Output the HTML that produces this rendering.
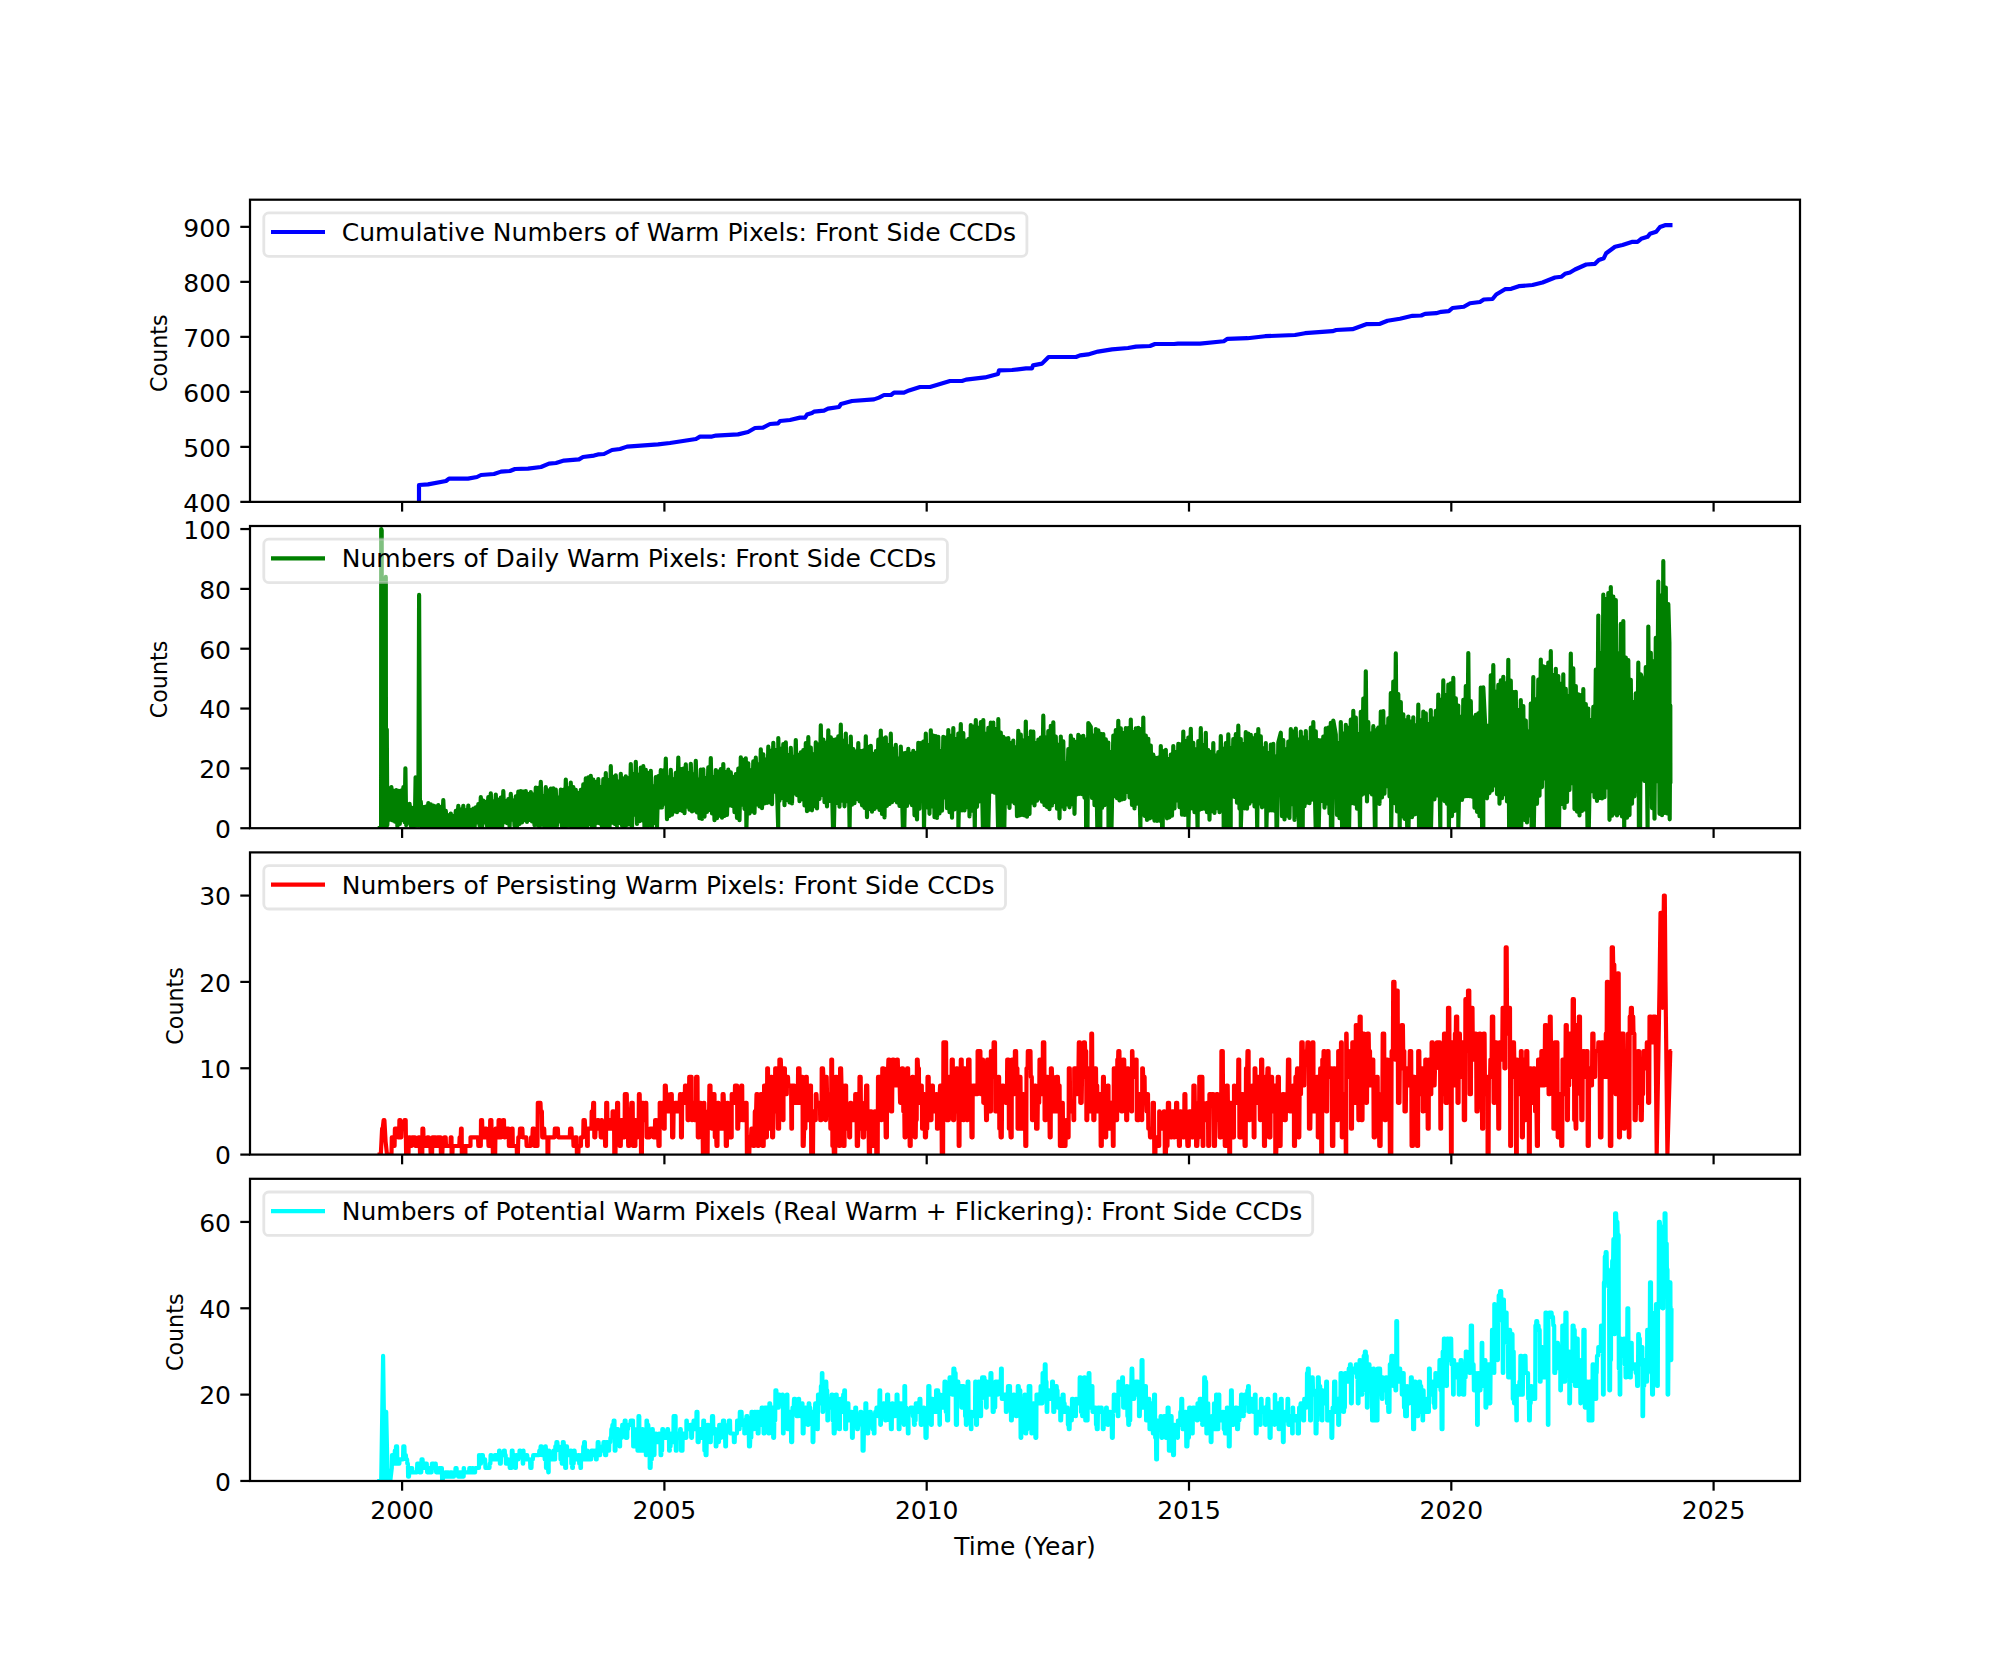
<!DOCTYPE html>
<html lang="en"><head><meta charset="utf-8"><title>Warm Pixels: Front Side CCDs</title>
<style>html,body{margin:0;padding:0;background:#fff}body{width:2000px;height:1664px;overflow:hidden}</style></head>
<body>
<svg width="2000" height="1664" viewBox="0 0 2000 1664" style="display:block">
<rect width="2000" height="1664" fill="#fff"/>
<defs>
<clipPath id="c0"><rect x="250" y="199.7" width="1550" height="302.2"/></clipPath>
<clipPath id="c1"><rect x="250" y="526" width="1550" height="302.2"/></clipPath>
<clipPath id="c2"><rect x="250" y="852.4" width="1550" height="302.2"/></clipPath>
<clipPath id="c3"><rect x="250" y="1178.8" width="1550" height="302.2"/></clipPath>
</defs>
<g font-family="'DejaVu Sans','Liberation Sans',sans-serif" fill="#000">
<path d="M419,506.9 L419,485 L428,484.4 L446,481 L449,478.6 L468,478.6 L477,477 L481,475 L494,474 L501,471.6 L510,471 L515,469 L528,468.6 L541,467 L549,463.6 L556,463 L564,460.6 L579,459.4 L583,457 L594,455.6 L598,454.4 L604,454 L612,450 L620,449 L627,446.6 L658,444.4 L670,443 L696,439 L700,436.6 L712,436.6 L716,435.6 L738,434.4 L748,432 L755,428 L763,427.6 L770,424 L778,423.4 L780,421 L790,420 L800,417.6 L805,417.6 L807,414.6 L812,413 L814,411.6 L824,410.6 L828,408.6 L839,407 L841,404 L852,401 L874,399.4 L879,397.6 L884,395 L891,395 L894,392.6 L904,392.6 L909,390.4 L920,387 L930,387 L950,381 L962,381 L966,379.6 L985,377.4 L998,374 L999,370.4 L1012,370 L1026,368.4 L1032,368.4 L1033,365.4 L1042,363.6 L1048.6,357 L1076,357 L1080,355.4 L1088,354.4 L1098,351.6 L1112,349.4 L1128,348 L1136,346.6 L1150,346 L1155,344 L1174,344 L1178,343.6 L1200,343.6 L1223.8,341.2 L1227.5,338.8 L1247.5,338.2 L1265,336.2 L1295,335 L1305,333.2 L1332.5,331.2 L1336.2,330 L1352.5,329.2 L1366.2,324.2 L1380,323.8 L1387.5,320.8 L1400,318.8 L1412.5,315.8 L1421.2,315.5 L1425,313.8 L1436.2,313.2 L1441.2,311.8 L1448.8,311.2 L1452.5,308 L1463.8,306.8 L1470,303.2 L1480,302 L1483.8,299.5 L1492.5,299 L1496.2,294.5 L1505,289.2 L1511.2,288.8 L1518.8,286.2 L1532.5,285 L1542.5,282.5 L1555,277.5 L1561.2,276.8 L1565,273.8 L1570,272.5 L1575,269.5 L1586.2,264.5 L1595,263.8 L1598.8,260 L1603.8,258.2 L1606.2,253.2 L1615,246.8 L1622.5,245 L1632.5,241.8 L1637.5,241.8 L1641.2,238.8 L1647.5,236.8 L1650,233.8 L1656.2,231.8 L1660,227 L1665,225.2 L1672.5,225.2" fill="none" stroke="#0000ff" stroke-width="4.17" stroke-linejoin="round" stroke-linecap="butt" clip-path="url(#c0)"/>
<rect x="250" y="199.7" width="1550" height="302.19" fill="none" stroke="#000" stroke-width="2.22"/>
<line x1="402.1" x2="402.1" y1="501.87" y2="511.59" stroke="#000" stroke-width="2.22"/>
<line x1="664.4" x2="664.4" y1="501.87" y2="511.59" stroke="#000" stroke-width="2.22"/>
<line x1="926.7" x2="926.7" y1="501.87" y2="511.59" stroke="#000" stroke-width="2.22"/>
<line x1="1189" x2="1189" y1="501.87" y2="511.59" stroke="#000" stroke-width="2.22"/>
<line x1="1451.3" x2="1451.3" y1="501.87" y2="511.59" stroke="#000" stroke-width="2.22"/>
<line x1="1713.6" x2="1713.6" y1="501.87" y2="511.59" stroke="#000" stroke-width="2.22"/>
<line x1="240.3" x2="250" y1="501.87" y2="501.87" stroke="#000" stroke-width="2.22"/>
<text x="231" y="511.7" font-size="25" text-anchor="end">400</text>
<line x1="240.3" x2="250" y1="446.87" y2="446.87" stroke="#000" stroke-width="2.22"/>
<text x="231" y="456.7" font-size="25" text-anchor="end">500</text>
<line x1="240.3" x2="250" y1="391.86" y2="391.86" stroke="#000" stroke-width="2.22"/>
<text x="231" y="401.7" font-size="25" text-anchor="end">600</text>
<line x1="240.3" x2="250" y1="336.86" y2="336.86" stroke="#000" stroke-width="2.22"/>
<text x="231" y="346.7" font-size="25" text-anchor="end">700</text>
<line x1="240.3" x2="250" y1="281.86" y2="281.86" stroke="#000" stroke-width="2.22"/>
<text x="231" y="291.7" font-size="25" text-anchor="end">800</text>
<line x1="240.3" x2="250" y1="226.85" y2="226.85" stroke="#000" stroke-width="2.22"/>
<text x="231" y="236.7" font-size="25" text-anchor="end">900</text>
<text transform="translate(167.2,353.2) rotate(-90)" font-size="22.22" text-anchor="middle">Counts</text>
<rect x="263.8" y="212.9" width="763.1" height="43.4" rx="5" ry="5" fill="#fff" fill-opacity="0.5" stroke="#ccc" stroke-opacity="0.5" stroke-width="2.78"/>
<line x1="271" x2="325" y1="232" y2="232" stroke="#0000ff" stroke-width="4.17"/>
<text x="341.7" y="240.8" font-size="25" textLength="674.3">Cumulative Numbers of Warm Pixels: Front Side CCDs</text>
<path d="M377.7,828.2 L379.6,828.2 L381.1,828.2 L381.2,529 L381.7,530.5 L381.8,828.2 L382.5,816.3 L383.5,828.2 L385.6,828.2 L385.8,576.9 L386,828.2 L386.5,822.2 L386.8,729.5 L387.3,825.2 L389,788 L390.2,819.7 L391.4,787 L392.6,820.5 L393.8,790.8 L395,821.7 L396.2,790 L397.4,826.5 L398.6,790.8 L399.8,823.8 L401,790.6 L402.2,820 L403.4,787.1 L404.6,822.2 L405.4,768.4 L406.2,825.2 L407.2,808.1 L408.4,822.7 L409.6,803.8 L410.8,826.1 L412,807.9 L413.2,827.3 L414.8,825.2 L415.6,777.4 L416.4,825.2 L417.4,807.3 L418.3,825.2 L419.1,594.9 L420,825.2 L420.8,801.6 L422.1,828.2 L423.3,807.1 L424.6,828.2 L425.8,806.6 L427.1,827.9 L428.3,803 L429.6,827.6 L430.8,804.4 L432.1,827.8 L433.3,805.6 L434.6,828.2 L435.8,806.4 L437.1,826.7 L438.3,805.2 L439.6,828.1 L440.8,807.2 L442.1,825.8 L443.3,800.2 L444.6,827.8 L445.8,810.9 L447.1,828.2 L448.3,815.3 L449.6,828.1 L450.8,813.5 L452.1,828.2 L453.3,816 L454.6,827.1 L455.8,810.9 L457.1,827.5 L458.3,805.8 L459.6,827.9 L460.8,809.5 L462.1,828.2 L463.3,805.8 L464.6,828.1 L465.8,810.4 L467.1,827.8 L468.3,805.6 L469.6,827.5 L470.8,810.1 L472.1,828 L473.3,808.6 L474.6,827.3 L475.8,807.4 L477.1,822.4 L478.3,804.1 L479.6,825.9 L480.8,797.2 L482.1,828 L483.3,800.6 L484.6,822.4 L485.8,801.9 L487.1,826.4 L488.3,797.2 L489.6,827.4 L490.8,793.4 L492.1,826.7 L493.3,801.7 L494.6,827.1 L495.8,794.7 L497.1,827.9 L498.3,799.9 L499.6,826.9 L500.8,797.5 L502.1,827.4 L503.3,791.1 L504.6,822.1 L505.8,801.1 L507.1,823.2 L508.3,799 L509.6,826.7 L510.8,793.9 L512,819.6 L513.3,800.7 L514.5,825.8 L515.8,796.3 L517,826.6 L518.3,791.7 L519.5,824 L520.8,791.1 L522,822.3 L523.3,791.5 L524.5,820.2 L525.8,791.1 L527,821.8 L528.3,794.2 L529.5,819.8 L530.8,792.1 L532,821.4 L533.3,794.7 L534.5,825.1 L535.8,787.5 L537,825 L538.3,787.9 L539.5,827.5 L540.8,781.9 L542,824.6 L543.3,796.4 L544.5,828.1 L545.8,787.2 L547,828 L548.3,790.6 L549.5,827.3 L550.8,788.5 L552,827.9 L553.3,788.3 L554.5,827.5 L555.8,789.7 L557,826.9 L558.3,797.9 L559.5,821.3 L560.8,789.6 L562,826.5 L563.3,789.8 L564.5,828.2 L565.8,779.5 L567,825.6 L568.3,788.3 L569.5,825.5 L570.8,782.7 L572,827.5 L573.3,787 L574.5,826.6 L575.8,789.9 L577,828.2 L578.3,793 L579.5,828.1 L580.8,789.8 L582,828.2 L583.3,784.4 L584.5,828.1 L585.8,778.3 L587,827.6 L588.3,777.3 L589.5,824.2 L590.8,775.9 L592,828.1 L593.3,779.6 L594.5,827.6 L595.8,782.1 L597,823 L598.3,779 L599.5,823.3 L600.8,787.2 L602,827.2 L603.3,779.2 L604.5,828.2 L605.8,773.1 L607,827.9 L608.3,780 L609.5,828.1 L610.8,766.2 L612,822.6 L613.3,776.9 L614.5,823.8 L615.8,775.3 L617,825.9 L618.3,781.5 L619.5,822.9 L620.8,773.8 L622,825.6 L623.3,778.5 L624.5,827.5 L625.8,776.4 L627,825 L628.3,778.4 L629.5,824.5 L630.8,764 L632,827.9 L633.3,774 L634.5,814.6 L635.8,761.8 L637,823.9 L638.3,774.8 L639.5,821.1 L640.8,767.5 L642,820.3 L643.3,766.2 L644.5,828.2 L645.8,769.8 L647,827.8 L648.3,773.2 L649.5,825.5 L650.8,770.8 L652,827.1 L653.3,786.7 L654.5,822.9 L655.8,777 L657,827.5 L658.3,776.2 L659.5,807.4 L660.8,770.2 L662,807.4 L663.3,770.6 L664.5,803.6 L665.8,758.6 L667,819.1 L668.3,777.6 L669.5,816 L670.8,769.9 L672,814.6 L673.3,779.3 L674.5,811.4 L675.8,772.8 L677,812.1 L678.3,757.6 L679.5,810.2 L680.8,769 L682,810.8 L683.3,768.6 L684.5,813.2 L685.8,764.3 L687,806.7 L688.3,773 L689.5,809.6 L690.8,763.9 L692,811.5 L693.3,774.7 L694.5,810.5 L695.8,760.8 L697,812.5 L698.3,779.9 L699.5,818.1 L700.8,769.5 L702,818.9 L703.3,769.4 L704.5,816.6 L705.8,778 L707,811.9 L708.3,767.3 L709.5,809.9 L710.8,758 L712,813.5 L713.3,777.1 L714.5,820.2 L715.8,770.1 L717,818.2 L718.3,771.5 L719.5,815.6 L720.8,769.2 L722,817.7 L723.3,764 L724.5,815.9 L725.8,772 L727,815 L728.3,769.7 L729.5,805.4 L730.8,772.3 L732,806 L733.3,777.1 L734.5,812.2 L735.8,774.2 L737,818 L738.3,768.6 L739.5,820.2 L740.8,757.4 L742,804.6 L743.3,759.9 L744.5,809 L745.8,758.4 L746.4,828.2 L748.3,763.4 L749.5,813.4 L750.8,770.3 L752,811.5 L753.3,761.3 L754.5,813 L755.8,757.7 L757,804.3 L758.3,764.7 L759.5,806.5 L760.8,749.4 L762,808.1 L763.3,754.3 L764.5,803.4 L765.8,759.7 L767,802.9 L768.3,746.7 L769.5,802.3 L770.8,750.9 L772,804.2 L773.3,742.9 L774.5,791.6 L775.8,750 L778.2,828.2 L778.3,738 L779.5,800.7 L780.8,748.8 L782,798 L783.3,744 L784.5,805.1 L785.8,742.3 L787,799.8 L788.3,755 L789.5,802.5 L790.8,747.9 L792,803.4 L793.3,756.9 L794.5,793.5 L795.8,740 L797,795.1 L798.3,755 L799.5,801.1 L800.8,752.3 L802,799.2 L803.3,750.1 L804.5,805.5 L805.8,743.1 L807,811.1 L808.3,737.2 L809.5,809.7 L810.8,747.6 L812,810.3 L813.3,754.4 L814.5,806.2 L815.8,742.4 L817,808.5 L818.3,744.7 L819.5,798.9 L820.8,725.4 L822,794.9 L823.3,739.5 L824.5,802.1 L825.8,742.8 L827,806.4 L828.3,730.3 L829.5,800.9 L830.8,737.3 L833,828.2 L833.3,739.9 L833.9,828.2 L835.8,739.3 L837,802.8 L838.3,736.4 L839.5,806.7 L840.8,724.7 L842,800.6 L843.3,740.8 L844.5,806.3 L845.8,733.6 L847,801.1 L848.3,746.4 L849.6,828.2 L850.8,736.7 L852,804.7 L853.3,749.1 L854.5,803.2 L855.8,751.7 L857,798.8 L858.3,743.1 L859.5,801.3 L860.8,751 L862,805.3 L863.3,750.7 L864.5,807.8 L865.8,736.4 L867,817.1 L868.3,746.9 L869.5,809 L870.8,745.8 L872,811.6 L873.3,754 L874.5,809 L875.8,751.1 L877,807.1 L878.3,739.7 L879.5,809.9 L880.8,730.6 L882,813.9 L883.3,738.7 L884.5,817.4 L885.8,737.3 L887,805.8 L888.3,745 L889.5,803.9 L890.8,733.7 L892,802.2 L893.3,748.9 L894.5,800.1 L895.8,744.8 L897,802.4 L898.3,758.9 L899.5,805.9 L900.8,746.5 L902.9,828.2 L903.3,753.4 L904.3,828.2 L905.8,752.8 L907,806 L908.3,748.8 L909.5,802.4 L910.8,753.9 L912,805.2 L913.3,750.8 L914.5,815.3 L915.8,753.1 L917,819.5 L918.3,742.9 L919.5,808.6 L920.8,743.2 L922,800.1 L923.3,741.7 L924,828.2 L925.8,733.5 L927,807.3 L928.3,745.2 L929.5,813.8 L930.8,730.3 L932,806.5 L933.3,735.6 L934.5,817.2 L935.8,736.2 L937,817.9 L938.3,736.8 L939.5,813.5 L940.8,751.1 L942,810.6 L943.3,736.8 L944.5,797.3 L945.8,737.7 L947,808.2 L948.3,730 L949.5,812.1 L950.8,735.8 L952,817.7 L953.3,728.1 L954.5,809.4 L955.8,739.1 L957,809 L958.3,733.6 L958.4,828.2 L960.8,724.1 L962,810.4 L963.3,733 L964.5,810.4 L965.8,740.8 L967,807.2 L968.3,739.2 L969.5,816.4 L970.8,725.1 L972,810.7 L973.3,726.6 L974.8,828.2 L975.8,720.1 L977,806.8 L978.3,727.8 L979.5,801.3 L980.8,722.2 L982.9,828.2 L983.3,720 L984.5,828.2 L985.8,733.9 L987,828.2 L988.3,727.9 L988.3,828.2 L990.8,722.7 L992,791.6 L993.3,722.6 L994.5,792.7 L995.8,729 L998.1,828.2 L998.3,719.2 L999.5,828.2 L1000.8,732.6 L1002,828.2 L1003.3,736.8 L1004.3,828.2 L1005.8,738.6 L1007,803.1 L1008.3,738.1 L1009.5,808 L1010.8,743 L1012,801.3 L1013.3,740.5 L1014.5,803.3 L1015.8,747.3 L1017,816.2 L1018.3,730.9 L1019.5,815.5 L1020.8,734.7 L1022,814.9 L1023.3,740.6 L1024.5,815.4 L1025.8,721.5 L1027,816.7 L1028.3,738 L1029.5,814 L1030.8,731.3 L1032,802.6 L1033.3,731.7 L1034.5,805.4 L1035.8,743.1 L1037,800.6 L1038.3,739.6 L1039.5,798.5 L1040.8,737.5 L1042,801.7 L1043.3,715.7 L1044.5,805.2 L1045.8,737.7 L1047,807 L1048.3,731.1 L1049.5,809.2 L1050.8,725.8 L1052,805.4 L1053.3,722.4 L1054.5,802 L1055.8,736.7 L1057,808.7 L1058.3,744.9 L1059.5,818.3 L1060.8,736.5 L1062,806.5 L1063.3,741.3 L1064.5,809.2 L1065.8,763.6 L1067,804.4 L1068.3,749.1 L1069.5,807.3 L1070.8,735.7 L1072,804.2 L1073.3,739.5 L1074.5,813.8 L1075.8,742.1 L1077,794.5 L1078.3,734.8 L1079.5,793.8 L1080.8,736.6 L1082,794.2 L1083.3,735.9 L1084.5,797.6 L1085.8,739.5 L1086.1,828.2 L1087.5,828.2 L1088.3,723 L1090.8,726.8 L1092,797.9 L1093.3,735.7 L1094.5,805.2 L1095.8,729.1 L1097.3,828.2 L1098.3,730.3 L1100.3,828.2 L1100.8,733.8 L1102,808 L1103.3,734.1 L1104.5,805.1 L1105.8,739.4 L1107,803.5 L1108.3,742.5 L1108.5,828.2 L1110.8,752.2 L1111.5,828.2 L1113.3,735.5 L1114.5,796.2 L1115.8,730 L1117,798.1 L1118.3,720.8 L1119.5,800.5 L1120.8,728.4 L1122,799.5 L1123.3,733.2 L1124.5,798.8 L1125.8,728.2 L1127,791.9 L1128.3,728.2 L1129.5,797.4 L1130.8,719.6 L1132,805 L1133.3,732.2 L1134.5,808.4 L1135.8,728.3 L1137,803.7 L1138.3,727.8 L1140.4,828.2 L1140.8,729.1 L1142,809.3 L1143.3,717.5 L1144.5,815.8 L1145.8,735.6 L1147,819.9 L1148.3,738.8 L1149.5,818.4 L1150.8,745.5 L1152,817.3 L1153.3,754.7 L1154.5,820.7 L1155.8,757.8 L1157,821 L1158.3,757.5 L1159.5,820.6 L1160.8,746.1 L1162.1,828.2 L1162.7,828.2 L1163.3,751.8 L1165.8,749.9 L1167,818.3 L1168.3,759.2 L1169.5,817.3 L1170.8,754.6 L1172,815.7 L1173.3,746 L1174.5,808.4 L1175.8,752.2 L1177,800.4 L1178.3,743.8 L1179.5,807.1 L1180.8,744.3 L1182,814.6 L1183.3,731.6 L1184.5,815 L1185.8,741.1 L1187,814.8 L1188.3,737.5 L1188.4,828.2 L1190.8,728.9 L1192,808.5 L1193.3,742.8 L1194.5,812.1 L1195.8,749.4 L1197.6,828.2 L1198.3,741.1 L1199.5,809.8 L1200.8,728.2 L1202,808.9 L1203.3,745.1 L1204.5,808.7 L1205.8,732.8 L1207,812.1 L1208.3,750.2 L1209.5,819.6 L1210.8,752.2 L1212,811.1 L1213.3,743.1 L1214.5,812.9 L1215.8,755.5 L1217,808.1 L1218.3,752.1 L1219.5,812.1 L1220.8,736.1 L1222,806.1 L1223.3,748.8 L1223.7,828.2 L1225.8,743.2 L1227,828.2 L1228.3,734.3 L1230.7,828.2 L1230.8,748.3 L1232,795.2 L1233.3,739.1 L1234.5,797 L1235.8,734.2 L1237,802.7 L1238.3,725.7 L1239.5,808.6 L1240.8,739.1 L1240.8,828.2 L1243.3,744 L1244.5,808.3 L1245.8,732 L1247,808.7 L1248.3,733.7 L1249.5,803.6 L1250.8,734.8 L1252,801.1 L1253.3,738.3 L1254.5,806.4 L1255.8,734.9 L1257.2,828.2 L1258.3,729 L1259.5,803.5 L1260.8,736.3 L1262,807.3 L1263.3,748.4 L1264.5,806.1 L1265.8,743.1 L1266.4,828.2 L1268.3,753.2 L1269.5,810.4 L1270.8,744.7 L1272,810.3 L1273.3,743.9 L1274.5,810.8 L1275.8,756.7 L1276.5,828.2 L1277.1,828.2 L1278.3,742.5 L1280.8,732.7 L1282,816.2 L1283.3,740.2 L1284.5,819.5 L1285.8,749.3 L1287,815.6 L1288.3,741.5 L1289.5,818 L1290.8,729.1 L1292,804.1 L1293.3,731.5 L1294.5,819.9 L1295.8,728.6 L1297,815.1 L1298.3,739.7 L1298.9,828.2 L1300.8,731.6 L1302.7,828.2 L1303.3,737.6 L1304.5,806.3 L1305.8,731.1 L1307,802.6 L1308.3,742.4 L1309.5,803.1 L1310.8,727.5 L1312,799.6 L1313.3,722.1 L1315.7,828.2 L1315.8,731.4 L1317,828.2 L1318.3,740.1 L1318.7,828.2 L1320.8,740.3 L1322,801 L1323.3,736.5 L1324.5,807.6 L1325.8,728.4 L1327,803.4 L1328.3,727.6 L1329.5,813.5 L1330.8,722.9 L1330.9,828.2 L1332.3,828.2 L1333.3,720.6 L1335.8,734.6 L1337,814.9 L1338.3,743.2 L1339.5,818.1 L1340.8,722 L1342.1,828.2 L1343.3,733.7 L1344.5,828.2 L1345.8,724.8 L1347,828.2 L1348.3,727.8 L1349.1,828.2 L1350.8,719.5 L1352,803.2 L1353.3,710.9 L1354.5,803.7 L1355.8,717.5 L1357,808.6 L1358.3,734.1 L1360,828.2 L1360.8,711.8 L1362,794.8 L1363.3,698.6 L1364.5,793.4 L1365.8,671.3 L1367,801.4 L1368.3,722.2 L1369.5,792.2 L1370.8,733.6 L1372,794.4 L1373.3,726.2 L1374.9,828.2 L1375.5,828.2 L1375.8,732.8 L1378.3,727.8 L1379.5,803.9 L1380.8,711.6 L1382,797.5 L1383.3,711.1 L1384.5,793.7 L1385.8,726.8 L1387,786.2 L1388.3,718.4 L1389.5,796.5 L1390.8,693.2 L1391.2,828.2 L1393.3,681.6 L1394.5,803.1 L1395.8,653.4 L1397,811.4 L1398.3,694.2 L1399.7,828.2 L1400.8,702.1 L1402,816.2 L1403.3,714.3 L1404.5,818.8 L1405.8,720.4 L1407.2,828.2 L1408.3,716.6 L1408.5,828.2 L1410.8,721.6 L1412,817.1 L1413.3,717.3 L1414.5,814.5 L1415.8,725.3 L1417,813.9 L1418.3,704.7 L1419,828.2 L1420.8,720.4 L1422,828.2 L1423.3,711.6 L1424.5,828.2 L1425.8,713.3 L1427,828.2 L1428.3,724 L1429.5,828.2 L1430.8,710.1 L1431,828.2 L1433.3,718.7 L1434.5,799.3 L1435.8,710.8 L1437,795.4 L1438.3,694.5 L1440.3,828.2 L1440.8,699.8 L1442,792.6 L1443.3,680.4 L1444.5,801.1 L1445.8,695.2 L1447,803.8 L1448.3,684.7 L1448.9,828.2 L1450.8,683.4 L1452,816.1 L1453.3,677.9 L1454.5,811 L1455.8,698.3 L1457,804.4 L1458.3,705.5 L1458.3,828.2 L1460.8,716.8 L1462,800 L1463.3,699.8 L1464.5,796.5 L1465.8,686 L1467,796.1 L1468.3,653 L1469.5,796.2 L1470.8,701.2 L1472,796.6 L1473.3,717.7 L1474.5,807.6 L1475.8,714.9 L1477,811.8 L1478.3,713.3 L1479.5,816.2 L1480.8,687.5 L1482.1,828.2 L1483.3,828.2 L1483.3,687.3 L1485.8,737.3 L1487,798.3 L1488.3,725.5 L1489.5,793.1 L1490.8,675.3 L1492,790.5 L1493.3,665.2 L1494.5,785.3 L1495.8,691.9 L1497,794.1 L1498.3,684.9 L1499.5,803.7 L1500.8,680.4 L1502,798.2 L1503.3,676.8 L1504.5,794.2 L1505.8,683.3 L1507,801.4 L1508.3,659.8 L1509.1,828.2 L1510.8,680.7 L1512,828.2 L1513.3,692 L1514.5,828.2 L1515.8,691.8 L1517,828.2 L1518.3,710.2 L1519.5,828.2 L1520.8,700.2 L1521.2,828.2 L1523.3,706.1 L1524.5,820 L1525.8,720.6 L1527,822.5 L1528.3,731.5 L1529.5,815.5 L1530.8,703.5 L1531.6,828.2 L1533.3,677 L1533.8,828.2 L1535.8,699.4 L1537,803.8 L1538.3,679.7 L1539.5,795.7 L1540.8,659.5 L1542,787.1 L1543.3,666.3 L1544.5,778.3 L1545.8,667 L1547,828.2 L1548.3,662.5 L1549.5,828.2 L1550.8,651.2 L1552,828.2 L1553.3,675.2 L1554.5,828.2 L1555.8,668.8 L1557,828.2 L1558.3,676 L1559,828.2 L1560.8,683.8 L1562,803.9 L1563.3,674.3 L1564.5,807.9 L1565.8,688.9 L1567,802 L1568.3,696.2 L1569.5,789.9 L1570.8,653.6 L1572,783.2 L1573.3,668.4 L1574.5,809.1 L1575.8,686 L1577,811.6 L1578.3,694.3 L1579.5,815.4 L1580.8,695 L1582,811 L1583.3,689.2 L1584.5,809.4 L1585.8,704 L1587.5,828.2 L1588.3,708.5 L1588.8,828.2 L1590.8,720 L1592,791.2 L1593.3,706.9 L1594.5,797.1 L1595.8,669.7 L1597,800.9 L1598.3,615.6 L1599.5,797.9 L1600.8,653 L1602,798.5 L1603.3,594.7 L1604.5,797.2 L1605.8,599.2 L1607,787.4 L1608.3,593.1 L1609.5,819.8 L1610.8,587.1 L1612,815.7 L1613.3,596.7 L1614.5,813.3 L1615.8,600 L1617,815.5 L1618.3,653.5 L1619.5,813.1 L1620.8,623.9 L1622,816.4 L1623.3,621.1 L1624.2,828.2 L1625.8,657.6 L1627,817.7 L1628.3,660.2 L1629.5,815.1 L1630.8,679.8 L1632,803.6 L1633.3,702.2 L1634.5,796.3 L1635.8,693.3 L1637,790.9 L1638.3,662.7 L1638.9,828.2 L1640.1,828.2 L1640.8,674.3 L1643.3,683.7 L1644.5,780.9 L1645.8,667 L1647.6,828.2 L1648.3,626.6 L1649.5,774.1 L1650.8,652.8 L1652,808.1 L1653.3,661.3 L1654.5,818.7 L1655.8,637.8 L1657,781.1 L1658.3,581.6 L1659.5,813.8 L1660.8,595.7 L1662,815.2 L1663.3,561.2 L1664.5,812.8 L1665.8,587.5 L1667,813.5 L1668.3,604.1 L1669.4,642.7 L1669.7,819.3 L1670.3,705.6 L1670.4,783.4" fill="none" stroke="#008000" stroke-width="4.17" stroke-linejoin="round" stroke-linecap="butt" clip-path="url(#c1)"/>
<rect x="250" y="526" width="1550" height="302.19" fill="none" stroke="#000" stroke-width="2.22"/>
<line x1="402.1" x2="402.1" y1="828.23" y2="837.95" stroke="#000" stroke-width="2.22"/>
<line x1="664.4" x2="664.4" y1="828.23" y2="837.95" stroke="#000" stroke-width="2.22"/>
<line x1="926.7" x2="926.7" y1="828.23" y2="837.95" stroke="#000" stroke-width="2.22"/>
<line x1="1189" x2="1189" y1="828.23" y2="837.95" stroke="#000" stroke-width="2.22"/>
<line x1="1451.3" x2="1451.3" y1="828.23" y2="837.95" stroke="#000" stroke-width="2.22"/>
<line x1="1713.6" x2="1713.6" y1="828.23" y2="837.95" stroke="#000" stroke-width="2.22"/>
<line x1="240.3" x2="250" y1="828.23" y2="828.23" stroke="#000" stroke-width="2.22"/>
<text x="231" y="838.0" font-size="25" text-anchor="end">0</text>
<line x1="240.3" x2="250" y1="768.39" y2="768.39" stroke="#000" stroke-width="2.22"/>
<text x="231" y="778.2" font-size="25" text-anchor="end">20</text>
<line x1="240.3" x2="250" y1="708.55" y2="708.55" stroke="#000" stroke-width="2.22"/>
<text x="231" y="718.4" font-size="25" text-anchor="end">40</text>
<line x1="240.3" x2="250" y1="648.71" y2="648.71" stroke="#000" stroke-width="2.22"/>
<text x="231" y="658.5" font-size="25" text-anchor="end">60</text>
<line x1="240.3" x2="250" y1="588.88" y2="588.88" stroke="#000" stroke-width="2.22"/>
<text x="231" y="598.7" font-size="25" text-anchor="end">80</text>
<line x1="240.3" x2="250" y1="529.04" y2="529.04" stroke="#000" stroke-width="2.22"/>
<text x="231" y="538.8" font-size="25" text-anchor="end">100</text>
<text transform="translate(167.2,679.5) rotate(-90)" font-size="22.22" text-anchor="middle">Counts</text>
<rect x="263.8" y="539.2" width="683.6" height="43.4" rx="5" ry="5" fill="#fff" fill-opacity="0.5" stroke="#ccc" stroke-opacity="0.5" stroke-width="2.78"/>
<line x1="271" x2="325" y1="558.3" y2="558.3" stroke="#008000" stroke-width="4.17"/>
<text x="341.7" y="567.1" font-size="25" textLength="594.6">Numbers of Daily Warm Pixels: Front Side CCDs</text>
<path d="M377.5,1154.6 L380.8,1154.6 L382.1,1128.7 L382.7,1128.7 L383.6,1120.1 L384.4,1120.1 L385.6,1141.6 L387,1154.6 L388.5,1154.6 L389.1,1154.6 L390.3,1154.6 L390.5,1154.6 L391.5,1154.6 L391.8,1137.3 L393,1137.3 L393.3,1146 L394.6,1146 L394.9,1128.7 L396.1,1128.7 L396.4,1128.7 L397.6,1128.7 L397.9,1137.3 L399.1,1137.3 L399.4,1120.1 L400.3,1120.1 L400.5,1137.3 L401.4,1137.3 L401.7,1128.7 L402.8,1128.7 L403.1,1128.7 L404.2,1128.7 L404.5,1120.1 L405.7,1120.1 L406.1,1154.6 L407.3,1154.6 L407.5,1154.6 L408.5,1154.6 L408.8,1137.3 L410,1137.3 L410.3,1146 L411.7,1146 L412,1137.3 L413.4,1137.3 L413.7,1137.3 L415.1,1137.3 L415.4,1146 L416.7,1146 L417,1146 L418.2,1146 L418.5,1137.3 L419.7,1137.3 L420,1154.6 L421.2,1154.6 L421.5,1154.6 L422.3,1154.6 L422.4,1128.7 L423.3,1128.7 L423.7,1146 L425.2,1146 L425.6,1146 L427,1146 L427.3,1137.3 L428.7,1137.3 L429,1146 L430.4,1146 L430.7,1154.6 L432.1,1154.6 L432.4,1137.3 L433.8,1137.3 L434.1,1137.3 L435.5,1137.3 L435.8,1146 L437.2,1146 L437.5,1137.3 L438.9,1137.3 L439.2,1137.3 L440.6,1137.3 L440.9,1154.6 L442.3,1154.6 L442.6,1146 L444,1146 L444.3,1137.3 L445.7,1137.3 L446,1146 L447.3,1146 L447.6,1146 L448.8,1146 L449.2,1146 L450.4,1146 L450.7,1137.3 L451.5,1137.3 L451.6,1154.6 L452.4,1154.6 L452.7,1146 L453.8,1146 L454.1,1146 L455.2,1146 L455.5,1146 L456.6,1146 L456.9,1146 L458,1146 L458.2,1146 L459.3,1146 L459.6,1137.3 L460.7,1137.3 L461,1128.7 L461.7,1128.7 L461.8,1154.6 L462.7,1154.6 L463,1146 L464.4,1146 L464.7,1154.6 L465.4,1154.6 L465.4,1146 L466.1,1146 L466.4,1146 L467.8,1146 L468.1,1146 L469.5,1146 L469.8,1146 L470.5,1146 L470.5,1137.3 L471,1137.3 L471.3,1137.3 L472.3,1137.3 L472.5,1137.3 L473.6,1137.3 L473.8,1137.3 L474.8,1137.3 L475.1,1137.3 L476.3,1137.3 L476.6,1137.3 L478,1137.3 L478.3,1146 L479.5,1146 L479.8,1146 L480.8,1146 L481,1120.1 L482.1,1120.1 L482.3,1128.7 L483.3,1128.7 L483.6,1137.3 L484.8,1137.3 L485.1,1128.7 L486.5,1128.7 L486.8,1137.3 L488.2,1137.3 L488.5,1146 L489.9,1146 L490.2,1120.1 L491.4,1120.1 L491.7,1146 L492.7,1146 L492.9,1154.6 L494,1154.6 L494.2,1154.6 L495.2,1154.6 L495.5,1128.7 L496.7,1128.7 L497,1137.3 L498.3,1137.3 L498.6,1120.1 L499.8,1120.1 L500.1,1137.3 L501.3,1137.3 L501.6,1128.7 L502.8,1128.7 L503.1,1120.1 L504,1120.1 L504.2,1137.3 L505.2,1137.3 L505.5,1128.7 L506.9,1128.7 L507.2,1128.7 L508.6,1128.7 L508.9,1146 L510.3,1146 L510.6,1146 L511.6,1146 L511.8,1128.7 L512.6,1128.7 L512.8,1146 L513.6,1146 L513.9,1146 L514.7,1146 L514.9,1146 L515.8,1146 L516,1146 L516.7,1146 L516.9,1154.6 L517.9,1154.6 L518.3,1137.3 L519.6,1137.3 L520,1128.7 L521.2,1128.7 L521.4,1128.7 L522.4,1128.7 L522.7,1137.3 L523.7,1137.3 L524,1137.3 L525,1137.3 L525.2,1137.3 L526.3,1137.3 L526.6,1146 L527.7,1146 L528,1146 L529.2,1146 L529.4,1146 L530.7,1146 L531,1137.3 L532.4,1137.3 L532.7,1128.7 L534.1,1128.7 L534.4,1146 L535.8,1146 L536.1,1146 L537.5,1146 L537.8,1102.8 L539.1,1102.8 L539.4,1102.8 L540.5,1102.8 L540.8,1111.4 L541.9,1111.4 L542.2,1137.3 L542.8,1137.3 L542.8,1128.7 L543.2,1128.7 L543.4,1128.7 L544.2,1128.7 L544.5,1137.3 L545.3,1137.3 L545.5,1137.3 L546.4,1137.3 L546.6,1137.3 L547.4,1137.3 L547.5,1154.6 L548.3,1154.6 L548.5,1137.3 L549.3,1137.3 L549.6,1137.3 L550.4,1137.3 L550.6,1137.3 L551.5,1137.3 L551.7,1137.3 L552.8,1137.3 L553.1,1137.3 L554.5,1137.3 L554.8,1128.7 L556.2,1128.7 L556.5,1128.7 L557.9,1128.7 L558.2,1137.3 L559.6,1137.3 L559.9,1137.3 L561.3,1137.3 L561.6,1137.3 L563,1137.3 L563.3,1137.3 L564.7,1137.3 L565,1137.3 L566.4,1137.3 L566.7,1137.3 L568.1,1137.3 L568.4,1137.3 L569.8,1137.3 L570.1,1128.7 L571.5,1128.7 L571.8,1137.3 L573.2,1137.3 L573.5,1146 L574.9,1146 L575.2,1137.3 L576.6,1137.3 L576.9,1154.6 L578.3,1154.6 L578.6,1146 L580,1146 L580.3,1146 L581,1146 L581,1137.3 L581.6,1137.3 L581.9,1137.3 L583.2,1137.3 L583.5,1120.1 L584.8,1120.1 L585.2,1128.7 L586.7,1128.7 L587.1,1146 L587.8,1146 L587.8,1128.7 L588.4,1128.7 L588.7,1128.7 L589.9,1128.7 L590.2,1128.7 L591.4,1128.7 L591.7,1111.4 L592.9,1111.4 L593.2,1102.8 L594.1,1102.8 L594.3,1137.3 L595.3,1137.3 L595.6,1128.7 L597,1128.7 L597.3,1120.1 L598.7,1120.1 L599,1128.7 L600.4,1128.7 L600.7,1137.3 L601.4,1137.3 L601.4,1120.1 L602,1120.1 L602.3,1137.3 L603.4,1137.3 L603.7,1128.7 L604.8,1128.7 L605.1,1146 L606,1146 L606.2,1102.8 L607.2,1102.8 L607.5,1128.7 L608.9,1128.7 L609.2,1120.1 L610.6,1120.1 L610.9,1128.7 L612.3,1128.7 L612.6,1111.4 L614,1111.4 L614.3,1154.6 L615.5,1154.6 L615.8,1128.7 L616.8,1128.7 L617.1,1102.8 L618.1,1102.8 L618.3,1137.3 L619.4,1137.3 L619.6,1146 L620.8,1146 L621.1,1120.1 L622.3,1120.1 L622.5,1128.7 L623.4,1128.7 L623.7,1137.3 L624.6,1137.3 L624.8,1094.2 L625.7,1094.2 L625.9,1094.2 L626.8,1094.2 L627.1,1137.3 L628,1137.3 L628.2,1146 L629.3,1146 L629.6,1111.4 L631,1111.4 L631.3,1102.8 L632.7,1102.8 L633,1146 L634.4,1146 L634.7,1146 L635.4,1146 L635.4,1120.1 L635.8,1120.1 L636,1128.7 L636.8,1128.7 L637,1137.3 L637.8,1137.3 L638,1120.1 L638.7,1120.1 L638.9,1094.2 L639.7,1094.2 L639.9,1111.4 L640.8,1111.4 L641,1154.6 L641.9,1154.6 L642.2,1102.8 L643.4,1102.8 L643.6,1120.1 L644.8,1120.1 L645.1,1102.8 L646.3,1102.8 L646.6,1137.3 L648,1137.3 L648.3,1137.3 L649.7,1137.3 L650,1128.7 L651.4,1128.7 L651.7,1128.7 L653.1,1128.7 L653.4,1137.3 L654.8,1137.3 L655.1,1120.1 L656.5,1120.1 L656.8,1137.3 L658.2,1137.3 L658.5,1146 L659.6,1146 L659.7,1102.8 L660.6,1102.8 L660.9,1120.1 L662.1,1120.1 L662.3,1102.8 L663.5,1102.8 L663.8,1128.7 L664.7,1128.7 L664.8,1085.5 L665.8,1085.5 L666.1,1094.2 L667.3,1094.2 L667.5,1111.4 L668.7,1111.4 L669,1102.8 L670.2,1102.8 L670.5,1094.2 L671.8,1094.2 L672.1,1137.3 L673.3,1137.3 L673.6,1111.4 L674.6,1111.4 L674.9,1102.8 L675.9,1102.8 L676.1,1102.8 L677.2,1102.8 L677.4,1111.4 L678.4,1111.4 L678.7,1102.8 L679.7,1102.8 L680,1094.2 L680.8,1094.2 L681,1137.3 L681.9,1137.3 L682.2,1094.2 L683.3,1094.2 L683.6,1102.8 L684.7,1102.8 L685,1085.5 L686.1,1085.5 L686.3,1094.2 L687.4,1094.2 L687.6,1120.1 L688.9,1120.1 L689.2,1076.9 L690.6,1076.9 L690.9,1076.9 L691.6,1076.9 L691.6,1120.1 L692.4,1120.1 L692.7,1102.8 L694.1,1102.8 L694.4,1120.1 L695.8,1120.1 L696.1,1076.9 L697.5,1076.9 L697.8,1137.3 L699.2,1137.3 L699.5,1102.8 L700.9,1102.8 L701.2,1128.7 L702.6,1128.7 L702.9,1154.6 L703.6,1154.6 L703.6,1102.8 L704.3,1102.8 L704.6,1120.1 L706,1120.1 L706.3,1154.6 L707.6,1154.6 L707.9,1111.4 L709.1,1111.4 L709.4,1085.5 L710.5,1085.5 L710.7,1111.4 L711.5,1111.4 L711.7,1128.7 L712.8,1128.7 L713.1,1094.2 L714.5,1094.2 L714.8,1137.3 L716.2,1137.3 L716.5,1146 L717.5,1146 L717.7,1102.8 L718.6,1102.8 L718.9,1111.4 L720,1111.4 L720.3,1128.7 L721.5,1128.7 L721.7,1128.7 L722.5,1128.7 L722.6,1094.2 L723.6,1094.2 L723.9,1102.8 L725.4,1102.8 L725.8,1146 L726.9,1146 L727.1,1102.8 L728,1102.8 L728.3,1128.7 L729.4,1128.7 L729.7,1137.3 L730.8,1137.3 L731.1,1137.3 L731.7,1137.3 L731.7,1094.2 L732.2,1094.2 L732.4,1102.8 L733.4,1102.8 L733.7,1102.8 L734.7,1102.8 L735,1085.5 L736,1085.5 L736.2,1085.5 L737.1,1085.5 L737.3,1128.7 L738.2,1128.7 L738.5,1111.4 L739.6,1111.4 L739.9,1120.1 L741,1120.1 L741.3,1085.5 L742.2,1085.5 L742.4,1120.1 L743.4,1120.1 L743.7,1120.1 L745.1,1120.1 L745.4,1102.8 L746.6,1102.8 L746.9,1154.6 L747.9,1154.6 L748.1,1154.6 L749.3,1154.6 L749.7,1137.3 L751,1137.3 L751.4,1128.7 L752.7,1128.7 L753.1,1146 L754.4,1146 L754.8,1111.4 L756.1,1111.4 L756.5,1094.2 L757.5,1094.2 L757.7,1146 L758.7,1146 L759,1111.4 L760.4,1111.4 L760.7,1094.2 L762.1,1094.2 L762.4,1146 L763.7,1146 L764.1,1085.5 L765.3,1085.5 L765.6,1137.3 L766.9,1137.3 L767.2,1068.3 L768,1068.3 L768.1,1128.7 L768.9,1128.7 L769.2,1094.2 L770.6,1094.2 L770.9,1076.9 L771.9,1076.9 L772.1,1137.3 L773.1,1137.3 L773.5,1111.4 L774.8,1111.4 L775.2,1068.3 L776.4,1068.3 L776.6,1076.9 L777.6,1076.9 L777.9,1128.7 L779.1,1128.7 L779.4,1059.6 L780.8,1059.6 L781.1,1068.3 L782.5,1068.3 L782.8,1120.1 L783.5,1120.1 L783.5,1068.3 L783.9,1068.3 L784.1,1068.3 L784.9,1068.3 L785.1,1094.2 L785.9,1094.2 L786,1094.2 L786.8,1094.2 L787,1076.9 L788,1076.9 L788.3,1085.5 L789.6,1085.5 L789.9,1085.5 L791.1,1085.5 L791.4,1128.7 L792,1128.7 L792,1085.5 L792.7,1085.5 L793,1085.5 L794.4,1085.5 L794.7,1102.8 L796.1,1102.8 L796.4,1102.8 L797.8,1102.8 L798.1,1068.3 L799.5,1068.3 L799.8,1102.8 L801.2,1102.8 L801.5,1076.9 L802.5,1076.9 L802.7,1146 L803.7,1146 L804.1,1128.7 L805.4,1128.7 L805.8,1076.9 L806.8,1076.9 L807,1120.1 L808,1120.1 L808.3,1120.1 L809.7,1120.1 L810,1085.5 L811,1085.5 L811.2,1154.6 L812,1154.6 L812.2,1154.6 L813,1154.6 L813.3,1111.4 L814.1,1111.4 L814.3,1111.4 L815.2,1111.4 L815.4,1120.1 L815.8,1120.1 L815.8,1094.2 L816.5,1094.2 L816.8,1102.8 L818.2,1102.8 L818.5,1102.8 L819.9,1102.8 L820.2,1120.1 L821.5,1120.1 L821.7,1068.3 L823,1068.3 L823.4,1076.9 L824.9,1076.9 L825.3,1120.1 L826,1120.1 L826,1076.9 L826.7,1076.9 L827,1094.2 L828.4,1094.2 L828.7,1111.4 L830.1,1111.4 L830.4,1128.7 L831.2,1128.7 L831.3,1059.6 L832.1,1059.6 L832.4,1146 L833.6,1146 L833.9,1154.6 L835.2,1154.6 L835.5,1076.9 L836.9,1076.9 L837.2,1137.3 L838.6,1137.3 L838.9,1146 L839.9,1146 L840.1,1068.3 L841.1,1068.3 L841.5,1085.5 L842.8,1085.5 L843.2,1146 L844.5,1146 L844.9,1085.5 L846.1,1085.5 L846.4,1128.7 L847.5,1128.7 L847.8,1120.1 L849,1120.1 L849.2,1137.3 L850.1,1137.3 L850.3,1102.8 L851.2,1102.8 L851.4,1111.4 L852.4,1111.4 L852.7,1120.1 L853.7,1120.1 L854,1120.1 L855,1120.1 L855.2,1094.2 L856.4,1094.2 L856.8,1146 L858,1146 L858.2,1128.7 L859.2,1128.7 L859.5,1076.9 L860.7,1076.9 L861,1120.1 L862.4,1120.1 L862.7,1137.3 L864.1,1137.3 L864.4,1102.8 L865.8,1102.8 L866.1,1085.5 L867.3,1085.5 L867.6,1128.7 L868.6,1128.7 L868.9,1154.6 L870,1154.6 L870.4,1111.4 L871.6,1111.4 L871.8,1137.3 L872.8,1137.3 L873.1,1146 L874.3,1146 L874.6,1111.4 L876,1111.4 L876.3,1154.6 L877.7,1154.6 L878,1076.9 L879.2,1076.9 L879.5,1076.9 L880.5,1076.9 L880.8,1120.1 L881.9,1120.1 L882.3,1068.3 L883.6,1068.3 L884,1102.8 L885.3,1102.8 L885.7,1137.3 L886.9,1137.3 L887.1,1068.3 L888.1,1068.3 L888.4,1059.6 L889.4,1059.6 L889.7,1076.9 L890.7,1076.9 L891,1111.4 L892.1,1111.4 L892.5,1059.6 L893.8,1059.6 L894.2,1085.5 L895.5,1085.5 L895.9,1085.5 L896.8,1085.5 L896.9,1059.6 L897.8,1059.6 L898.2,1085.5 L899.7,1085.5 L900.1,1102.8 L901.5,1102.8 L901.8,1068.3 L903,1068.3 L903.3,1111.4 L904.3,1111.4 L904.6,1137.3 L905.6,1137.3 L905.8,1085.5 L906.8,1085.5 L907.1,1068.3 L908.1,1068.3 L908.4,1120.1 L909.4,1120.1 L909.7,1146 L910.7,1146 L910.9,1094.2 L911.9,1094.2 L912.2,1076.9 L913.2,1076.9 L913.5,1102.8 L914.5,1102.8 L914.8,1137.3 L915.7,1137.3 L915.9,1120.1 L916.7,1120.1 L916.9,1059.6 L917.7,1059.6 L918,1068.3 L918.9,1068.3 L919.1,1102.8 L920.2,1102.8 L920.5,1085.5 L921.8,1085.5 L922.1,1128.7 L923.2,1128.7 L923.5,1094.2 L924.6,1094.2 L924.9,1137.3 L926,1137.3 L926.2,1128.7 L927.2,1128.7 L927.5,1076.9 L928.7,1076.9 L929,1120.1 L930.2,1120.1 L930.5,1120.1 L931.5,1120.1 L931.8,1085.5 L932.9,1085.5 L933.3,1111.4 L934.5,1111.4 L934.7,1111.4 L935.7,1111.4 L936,1094.2 L936.9,1094.2 L937,1128.7 L938,1128.7 L938.4,1094.2 L939.7,1094.2 L940.1,1085.5 L941.4,1085.5 L941.8,1154.6 L943.1,1154.6 L943.4,1042.4 L944.6,1042.4 L944.9,1042.4 L946.1,1042.4 L946.4,1120.1 L947.5,1120.1 L947.8,1120.1 L948.8,1120.1 L948.9,1076.9 L949.9,1076.9 L950.2,1102.8 L951.4,1102.8 L951.7,1059.6 L952.8,1059.6 L953,1120.1 L954.2,1120.1 L954.5,1094.2 L955.9,1094.2 L956.2,1068.3 L957.4,1068.3 L957.6,1111.4 L958.5,1111.4 L958.7,1146 L959.5,1146 L959.7,1076.9 L960.6,1076.9 L960.8,1059.6 L961.7,1059.6 L961.9,1111.4 L963,1111.4 L963.2,1120.1 L964.1,1120.1 L964.2,1068.3 L965.1,1068.3 L965.3,1094.2 L966.4,1094.2 L966.6,1120.1 L967.8,1120.1 L968.1,1059.6 L969.5,1059.6 L969.8,1111.4 L971.2,1111.4 L971.5,1137.3 L972.6,1137.3 L972.7,1085.5 L973.6,1085.5 L973.9,1085.5 L975.1,1085.5 L975.3,1094.2 L976.5,1094.2 L976.8,1094.2 L977.5,1094.2 L977.6,1051 L978.6,1051 L978.9,1051 L980.4,1051 L980.8,1094.2 L981.9,1094.2 L982.1,1059.6 L983,1059.6 L983.3,1102.8 L984.4,1102.8 L984.7,1102.8 L985.8,1102.8 L986.1,1120.1 L987,1120.1 L987.2,1059.6 L988.2,1059.6 L988.5,1076.9 L989.9,1076.9 L990.2,1111.4 L990.9,1111.4 L990.9,1051 L991.6,1051 L991.9,1076.9 L993.3,1076.9 L993.6,1042.4 L995,1042.4 L995.3,1111.4 L996.5,1111.4 L996.8,1094.2 L997.8,1094.2 L998.1,1076.9 L999.1,1076.9 L999.3,1128.7 L1000.4,1128.7 L1000.6,1137.3 L1001.8,1137.3 L1002.1,1085.5 L1003.5,1085.5 L1003.8,1094.2 L1005.2,1094.2 L1005.5,1102.8 L1006.9,1102.8 L1007.2,1059.6 L1008.6,1059.6 L1008.9,1128.7 L1010.3,1128.7 L1010.6,1137.3 L1011.7,1137.3 L1011.8,1059.6 L1012.8,1059.6 L1013.2,1094.2 L1014.5,1094.2 L1014.9,1051 L1016.1,1051 L1016.3,1068.3 L1017.4,1068.3 L1017.6,1128.7 L1018.8,1128.7 L1019.1,1076.9 L1020.5,1076.9 L1020.8,1128.7 L1022.2,1128.7 L1022.5,1094.2 L1023.7,1094.2 L1024,1111.4 L1025,1111.4 L1025.3,1146 L1026.3,1146 L1026.5,1068.3 L1027.6,1068.3 L1027.8,1051 L1029,1051 L1029.3,1051 L1030.5,1051 L1030.8,1076.9 L1031.8,1076.9 L1032,1120.1 L1033.1,1120.1 L1033.3,1111.4 L1034.3,1111.4 L1034.6,1085.5 L1035.8,1085.5 L1036.1,1128.7 L1037.5,1128.7 L1037.8,1102.8 L1039.2,1102.8 L1039.5,1059.6 L1040.9,1059.6 L1041.2,1094.2 L1042.6,1094.2 L1042.9,1042.4 L1044.3,1042.4 L1044.6,1120.1 L1046,1120.1 L1046.3,1076.9 L1047.7,1076.9 L1048,1111.4 L1049.4,1111.4 L1049.7,1137.3 L1050.7,1137.3 L1050.9,1068.3 L1051.8,1068.3 L1052.1,1076.9 L1053.2,1076.9 L1053.5,1111.4 L1054.7,1111.4 L1054.9,1111.4 L1056.2,1111.4 L1056.5,1076.9 L1057.9,1076.9 L1058.2,1085.5 L1059.6,1085.5 L1059.9,1146 L1061.3,1146 L1061.6,1102.8 L1062.8,1102.8 L1063.1,1146 L1064.1,1146 L1064.3,1146 L1065.5,1146 L1065.9,1120.1 L1067.2,1120.1 L1067.6,1137.3 L1068.6,1137.3 L1068.8,1068.3 L1069.8,1068.3 L1070.1,1111.4 L1071.5,1111.4 L1071.8,1102.8 L1073.2,1102.8 L1073.5,1120.1 L1074.2,1120.1 L1074.2,1068.3 L1074.7,1068.3 L1075,1068.3 L1076,1068.3 L1076.2,1094.2 L1077.3,1094.2 L1077.5,1068.3 L1078.5,1068.3 L1078.8,1042.4 L1080,1042.4 L1080.3,1102.8 L1081.7,1102.8 L1082,1076.9 L1083.4,1076.9 L1083.7,1042.4 L1084.9,1042.4 L1085.2,1051 L1086.2,1051 L1086.4,1120.1 L1087.3,1120.1 L1087.5,1068.3 L1088.5,1068.3 L1088.8,1111.4 L1089.9,1111.4 L1090.2,1094.2 L1091.1,1094.2 L1091.3,1033.7 L1092.1,1033.7 L1092.3,1076.9 L1093.1,1076.9 L1093.3,1120.1 L1094.4,1120.1 L1094.8,1068.3 L1096,1068.3 L1096.2,1085.5 L1097.2,1085.5 L1097.5,1111.4 L1098.7,1111.4 L1099,1094.2 L1100.4,1094.2 L1100.7,1146 L1101.8,1146 L1102,1094.2 L1102.8,1094.2 L1103,1076.9 L1103.9,1076.9 L1104.1,1094.2 L1105,1094.2 L1105.2,1137.3 L1106.2,1137.3 L1106.4,1102.8 L1107.4,1102.8 L1107.7,1085.5 L1108.5,1085.5 L1108.7,1128.7 L1109.5,1128.7 L1109.7,1120.1 L1110.5,1120.1 L1110.8,1102.8 L1111.6,1102.8 L1111.8,1128.7 L1112.7,1128.7 L1112.9,1146 L1113.6,1146 L1113.8,1068.3 L1114.7,1068.3 L1114.9,1111.4 L1115.9,1111.4 L1116.2,1120.1 L1117.1,1120.1 L1117.3,1059.6 L1118.1,1059.6 L1118.3,1051 L1119.4,1051 L1119.7,1068.3 L1120.9,1068.3 L1121.2,1111.4 L1122.5,1111.4 L1122.8,1059.6 L1124.2,1059.6 L1124.5,1076.9 L1125.9,1076.9 L1126.2,1120.1 L1127.2,1120.1 L1127.4,1068.3 L1128.3,1068.3 L1128.6,1102.8 L1129.7,1102.8 L1130,1094.2 L1131.2,1094.2 L1131.4,1111.4 L1132,1111.4 L1132,1051 L1132.4,1051 L1132.6,1059.6 L1133.5,1059.6 L1133.7,1076.9 L1134.6,1076.9 L1134.8,1068.3 L1135.6,1068.3 L1135.8,1059.6 L1136.6,1059.6 L1136.8,1120.1 L1137.6,1120.1 L1137.9,1120.1 L1138.9,1120.1 L1139.1,1094.2 L1140.2,1094.2 L1140.4,1111.4 L1141.4,1111.4 L1141.7,1120.1 L1142.2,1120.1 L1142.2,1068.3 L1142.9,1068.3 L1143.2,1076.9 L1144.6,1076.9 L1144.9,1102.8 L1146.3,1102.8 L1146.6,1111.4 L1147.3,1111.4 L1147.3,1094.2 L1148,1094.2 L1148.3,1128.7 L1149.7,1128.7 L1150,1137.3 L1151.2,1137.3 L1151.5,1128.7 L1152.5,1128.7 L1152.7,1102.8 L1153.9,1102.8 L1154.3,1154.6 L1155.4,1154.6 L1155.6,1137.3 L1156.4,1137.3 L1156.7,1137.3 L1157.5,1137.3 L1157.7,1137.3 L1158.6,1137.3 L1158.8,1146 L1159.2,1146 L1159.2,1111.4 L1159.7,1111.4 L1160,1128.7 L1161,1128.7 L1161.2,1128.7 L1162.3,1128.7 L1162.5,1128.7 L1163.5,1128.7 L1163.8,1111.4 L1164.6,1111.4 L1164.8,1154.6 L1165.8,1154.6 L1166.2,1146 L1167.5,1146 L1167.9,1102.8 L1169.1,1102.8 L1169.3,1128.7 L1170.3,1128.7 L1170.6,1137.3 L1171.8,1137.3 L1172.1,1111.4 L1173.5,1111.4 L1173.8,1137.3 L1174.9,1137.3 L1175.1,1120.1 L1175.9,1120.1 L1176.1,1102.8 L1177.2,1102.8 L1177.5,1137.3 L1178.7,1137.3 L1179,1146 L1179.9,1146 L1180.1,1111.4 L1181.1,1111.4 L1181.5,1128.7 L1182.8,1128.7 L1183.2,1137.3 L1184.2,1137.3 L1184.4,1094.2 L1185.4,1094.2 L1185.7,1137.3 L1187.1,1137.3 L1187.4,1146 L1188.8,1146 L1189.1,1111.4 L1190.3,1111.4 L1190.6,1111.4 L1191.6,1111.4 L1191.8,1137.3 L1193,1137.3 L1193.4,1085.5 L1194.6,1085.5 L1194.8,1102.8 L1195.8,1102.8 L1196.1,1146 L1197.3,1146 L1197.6,1137.3 L1199,1137.3 L1199.3,1076.9 L1200.7,1076.9 L1201,1076.9 L1202.4,1076.9 L1202.7,1146 L1203.4,1146 L1203.4,1102.8 L1203.8,1102.8 L1204,1120.1 L1204.9,1120.1 L1205.1,1120.1 L1206,1120.1 L1206.2,1111.4 L1207,1111.4 L1207.2,1102.8 L1208,1102.8 L1208.2,1146 L1209.1,1146 L1209.4,1094.2 L1210.5,1094.2 L1210.8,1102.8 L1211.9,1102.8 L1212.2,1094.2 L1213.4,1094.2 L1213.8,1146 L1215,1146 L1215.2,1111.4 L1216.2,1111.4 L1216.5,1094.2 L1217.7,1094.2 L1218,1120.1 L1219.4,1120.1 L1219.7,1137.3 L1221.1,1137.3 L1221.4,1051 L1222.8,1051 L1223.1,1128.7 L1224.5,1128.7 L1224.8,1146 L1226.2,1146 L1226.5,1085.5 L1227.7,1085.5 L1228,1111.4 L1229,1111.4 L1229.3,1154.6 L1230.1,1154.6 L1230.3,1102.8 L1231.3,1102.8 L1231.6,1137.3 L1233,1137.3 L1233.3,1137.3 L1234,1137.3 L1234,1085.5 L1234.5,1085.5 L1234.7,1102.8 L1235.7,1102.8 L1235.9,1102.8 L1236.9,1102.8 L1237.1,1085.5 L1238.1,1085.5 L1238.3,1059.6 L1239.2,1059.6 L1239.4,1137.3 L1240.2,1137.3 L1240.4,1137.3 L1241.5,1137.3 L1241.8,1094.2 L1243,1094.2 L1243.3,1128.7 L1244.3,1128.7 L1244.6,1146 L1245.7,1146 L1246,1068.3 L1247.2,1068.3 L1247.5,1051 L1248.6,1051 L1248.8,1120.1 L1250,1120.1 L1250.3,1094.2 L1251.7,1094.2 L1252,1085.5 L1253.4,1085.5 L1253.7,1137.3 L1254.5,1137.3 L1254.6,1068.3 L1255.4,1068.3 L1255.7,1102.8 L1256.9,1102.8 L1257.2,1076.9 L1258.3,1076.9 L1258.6,1094.2 L1259.6,1094.2 L1259.9,1120.1 L1260.8,1120.1 L1261.1,1059.6 L1262.2,1059.6 L1262.5,1094.2 L1263.7,1094.2 L1264,1146 L1265,1146 L1265.1,1076.9 L1266,1076.9 L1266.2,1076.9 L1267.2,1076.9 L1267.5,1068.3 L1268.7,1068.3 L1269,1137.3 L1270.4,1137.3 L1270.7,1076.9 L1272.1,1076.9 L1272.4,1111.4 L1273.8,1111.4 L1274.1,1085.5 L1275.2,1085.5 L1275.3,1154.6 L1276.2,1154.6 L1276.4,1146 L1277.4,1146 L1277.7,1076.9 L1278.9,1076.9 L1279.2,1146 L1280.6,1146 L1280.9,1111.4 L1282.3,1111.4 L1282.6,1094.2 L1284,1094.2 L1284.3,1120.1 L1285.8,1120.1 L1286.1,1094.2 L1287.6,1094.2 L1288,1059.6 L1289.3,1059.6 L1289.6,1111.4 L1290.8,1111.4 L1291.1,1094.2 L1292.5,1094.2 L1292.8,1085.5 L1293.9,1085.5 L1294,1146 L1295,1146 L1295.4,1076.9 L1296.7,1076.9 L1297.1,1068.3 L1298.1,1068.3 L1298.3,1137.3 L1299.3,1137.3 L1299.6,1094.2 L1301,1094.2 L1301.3,1042.4 L1302.7,1042.4 L1303,1085.5 L1304.3,1085.5 L1304.6,1059.6 L1305.7,1059.6 L1306,1051 L1307.1,1051 L1307.4,1042.4 L1308.6,1042.4 L1309,1128.7 L1310.3,1128.7 L1310.7,1094.2 L1312,1094.2 L1312.4,1042.4 L1313.4,1042.4 L1313.6,1111.4 L1314.6,1111.4 L1314.9,1102.8 L1316.3,1102.8 L1316.6,1076.9 L1317.7,1076.9 L1317.8,1137.3 L1318.7,1137.3 L1318.9,1085.5 L1320,1085.5 L1320.2,1068.3 L1321.1,1068.3 L1321.2,1154.6 L1322.1,1154.6 L1322.3,1059.6 L1323.4,1059.6 L1323.6,1051 L1324.6,1051 L1324.9,1068.3 L1325.9,1068.3 L1326.2,1111.4 L1327.1,1111.4 L1327.4,1051 L1328.5,1051 L1328.8,1076.9 L1330.1,1076.9 L1330.4,1068.3 L1331.7,1068.3 L1332,1146 L1333.3,1146 L1333.6,1068.3 L1335,1068.3 L1335.3,1085.5 L1336.7,1085.5 L1337,1120.1 L1338.1,1120.1 L1338.2,1051 L1339.2,1051 L1339.5,1076.9 L1340.7,1076.9 L1341,1042.4 L1341.8,1042.4 L1341.8,1137.3 L1342.4,1137.3 L1342.6,1102.8 L1343.5,1102.8 L1343.7,1094.2 L1344.5,1094.2 L1344.7,1128.7 L1345.6,1128.7 L1345.8,1154.6 L1346.2,1154.6 L1346.2,1033.7 L1346.6,1033.7 L1346.9,1059.6 L1347.7,1059.6 L1347.9,1076.9 L1348.8,1076.9 L1349,1059.6 L1349.8,1059.6 L1350,1051 L1350.8,1051 L1351,1128.7 L1352,1128.7 L1352.3,1042.4 L1353.5,1042.4 L1353.8,1094.2 L1354.8,1094.2 L1355.1,1102.8 L1355.7,1102.8 L1355.8,1025.1 L1356.5,1025.1 L1356.8,1076.9 L1358.1,1076.9 L1358.4,1120.1 L1359,1120.1 L1359,1033.7 L1359.4,1033.7 L1359.6,1016.5 L1360.7,1016.5 L1361.1,1120.1 L1362.5,1120.1 L1362.9,1033.7 L1364.1,1033.7 L1364.4,1051 L1365.5,1051 L1365.8,1102.8 L1367,1102.8 L1367.4,1033.7 L1368.7,1033.7 L1368.9,1051 L1370,1051 L1370.3,1085.5 L1371.5,1085.5 L1371.9,1059.6 L1373.3,1059.6 L1373.7,1137.3 L1375,1137.3 L1375.2,1102.8 L1376.3,1102.8 L1376.6,1076.9 L1377.7,1076.9 L1377.9,1128.7 L1379,1128.7 L1379.3,1146 L1380.6,1146 L1380.9,1094.2 L1382.4,1094.2 L1382.7,1033.7 L1384.2,1033.7 L1384.5,1120.1 L1386,1120.1 L1386.3,1059.6 L1387.8,1059.6 L1388.1,1111.4 L1389.6,1111.4 L1389.9,1154.6 L1391.3,1154.6 L1391.6,1051 L1392.9,1051 L1393.2,981.9 L1394.5,981.9 L1394.8,1059.6 L1396,1059.6 L1396.3,990.6 L1397.7,990.6 L1398,1102.8 L1399.5,1102.8 L1399.8,1068.3 L1401.3,1068.3 L1401.6,1025.1 L1402.9,1025.1 L1403.2,1051 L1404.3,1051 L1404.5,1111.4 L1405.8,1111.4 L1406.2,1068.3 L1407.6,1068.3 L1408,1085.5 L1409.4,1085.5 L1409.8,1051 L1411.2,1051 L1411.6,1146 L1413,1146 L1413.4,1076.9 L1414.8,1076.9 L1415.2,1085.5 L1416.6,1085.5 L1417,1146 L1418.1,1146 L1418.2,1051 L1419.3,1051 L1419.7,1094.2 L1421.1,1094.2 L1421.5,1068.3 L1422.6,1068.3 L1422.7,1111.4 L1423.6,1111.4 L1423.9,1102.8 L1425,1102.8 L1425.3,1059.6 L1426.3,1059.6 L1426.5,1085.5 L1427.4,1085.5 L1427.7,1128.7 L1428.7,1128.7 L1428.9,1059.6 L1430,1059.6 L1430.3,1094.2 L1431.3,1094.2 L1431.6,1042.4 L1432.8,1042.4 L1433.2,1085.5 L1434.6,1085.5 L1435,1068.3 L1436.4,1068.3 L1436.8,1042.4 L1438.2,1042.4 L1438.6,1042.4 L1440,1042.4 L1440.4,1128.7 L1441.1,1128.7 L1441.1,1059.6 L1441.8,1059.6 L1442.2,1094.2 L1443.7,1094.2 L1444,1033.7 L1445.2,1033.7 L1445.4,1102.8 L1446.2,1102.8 L1446.5,1102.8 L1447.6,1102.8 L1448,1007.8 L1449.3,1007.8 L1449.6,1076.9 L1450.7,1076.9 L1451,1154.6 L1451.7,1154.6 L1451.8,1042.4 L1452.4,1042.4 L1452.6,1076.9 L1453.5,1076.9 L1453.7,1085.5 L1454.6,1085.5 L1454.9,1033.7 L1455.8,1033.7 L1456,1016.5 L1457.2,1016.5 L1457.5,1102.8 L1458.6,1102.8 L1458.8,1033.7 L1459.9,1033.7 L1460.2,1076.9 L1461.7,1076.9 L1462,1042.4 L1463.5,1042.4 L1463.8,1120.1 L1465.1,1120.1 L1465.4,999.2 L1466.4,999.2 L1466.7,1051 L1467.7,1051 L1468,990.6 L1469.3,990.6 L1469.6,1094.2 L1470.9,1094.2 L1471.2,1007.8 L1472.5,1007.8 L1472.9,1059.6 L1474.3,1059.6 L1474.7,1033.7 L1476.1,1033.7 L1476.5,1111.4 L1477.7,1111.4 L1478,1102.8 L1479.1,1102.8 L1479.3,1033.7 L1480.4,1033.7 L1480.7,1076.9 L1481.8,1076.9 L1482.1,1128.7 L1483.2,1128.7 L1483.5,1033.7 L1484.6,1033.7 L1485,1094.2 L1486.2,1094.2 L1486.5,1076.9 L1487.5,1076.9 L1487.6,1154.6 L1488.6,1154.6 L1488.9,1076.9 L1490.1,1076.9 L1490.4,1059.6 L1491.6,1059.6 L1491.9,1016.5 L1493.2,1016.5 L1493.6,1102.8 L1495,1102.8 L1495.4,1042.4 L1496.7,1042.4 L1496.9,1085.5 L1498,1085.5 L1498.3,1128.7 L1499.2,1128.7 L1499.4,1042.4 L1500.4,1042.4 L1500.8,1059.6 L1502.2,1059.6 L1502.6,1007.8 L1504,1007.8 L1504.4,1068.3 L1505.5,1068.3 L1505.7,947.4 L1506.7,947.4 L1507.1,1033.7 L1508.6,1033.7 L1508.9,1007.8 L1510,1007.8 L1510.2,1146 L1511.1,1146 L1511.3,1076.9 L1512.4,1076.9 L1512.7,1042.4 L1514,1042.4 L1514.3,1059.6 L1515.8,1059.6 L1516.1,1154.6 L1516.8,1154.6 L1516.8,1059.6 L1517.3,1059.6 L1517.5,1076.9 L1518.4,1076.9 L1518.6,1094.2 L1519.5,1094.2 L1519.8,1076.9 L1520.7,1076.9 L1520.9,1051 L1521.7,1051 L1521.9,1137.3 L1522.9,1137.3 L1523.2,1059.6 L1524.4,1059.6 L1524.7,1120.1 L1525.9,1120.1 L1526.2,1051 L1527.3,1051 L1527.6,1085.5 L1528.7,1085.5 L1528.9,1154.6 L1529.8,1154.6 L1530,1068.3 L1531.1,1068.3 L1531.4,1102.8 L1532.9,1102.8 L1533.3,1068.3 L1534.7,1068.3 L1535.1,1111.4 L1536.5,1111.4 L1536.9,1146 L1537.9,1146 L1538.1,1059.6 L1539.2,1059.6 L1539.6,1085.5 L1541,1085.5 L1541.4,1051 L1542.8,1051 L1543.2,1085.5 L1544.6,1085.5 L1545,1025.1 L1546.4,1025.1 L1546.8,1042.4 L1548.2,1042.4 L1548.6,1094.2 L1549.7,1094.2 L1549.8,1016.5 L1550.7,1016.5 L1551,1051 L1552.1,1051 L1552.4,1051 L1553.3,1051 L1553.4,1128.7 L1554.4,1128.7 L1554.7,1042.4 L1555.9,1042.4 L1556.3,1042.4 L1557.4,1042.4 L1557.7,1137.3 L1559,1137.3 L1559.4,1094.2 L1560.8,1094.2 L1561.2,1146 L1562.3,1146 L1562.5,1059.6 L1563.5,1059.6 L1563.9,1094.2 L1565.3,1094.2 L1565.7,1025.1 L1566.8,1025.1 L1567,1120.1 L1567.9,1120.1 L1568.1,1085.5 L1569.2,1085.5 L1569.5,1033.7 L1570.7,1033.7 L1571.1,1076.9 L1572.4,1076.9 L1572.7,999.2 L1573.9,999.2 L1574.2,1120.1 L1575.4,1120.1 L1575.7,1128.7 L1576.3,1128.7 L1576.3,1025.1 L1577,1025.1 L1577.3,1051 L1578.6,1051 L1578.9,1016.5 L1580,1016.5 L1580.2,1094.2 L1581.1,1094.2 L1581.3,1120.1 L1582.5,1120.1 L1582.8,1051 L1584.3,1051 L1584.6,1076.9 L1586.1,1076.9 L1586.4,1051 L1587.5,1051 L1587.7,1146 L1588.8,1146 L1589.1,1068.3 L1590.5,1068.3 L1590.8,1085.5 L1592,1085.5 L1592.3,1033.7 L1593.5,1033.7 L1593.8,1076.9 L1595.1,1076.9 L1595.4,1051 L1596.7,1051 L1597,1051 L1598.1,1051 L1598.3,1042.4 L1599.6,1042.4 L1600,1137.3 L1601.4,1137.3 L1601.8,1042.4 L1603,1042.4 L1603.3,1076.9 L1604.4,1076.9 L1604.6,1076.9 L1605.6,1076.9 L1605.8,1033.7 L1606.7,1033.7 L1606.9,981.9 L1608,981.9 L1608.3,1076.9 L1609.6,1076.9 L1609.9,1146 L1611.3,1146 L1611.7,947.4 L1612.9,947.4 L1613.2,964.6 L1614.3,964.6 L1614.6,990.6 L1615.5,990.6 L1615.6,1094.2 L1616.4,1094.2 L1616.6,1051 L1617.5,1051 L1617.7,973.3 L1618.7,973.3 L1619,1137.3 L1620,1137.3 L1620.1,1033.7 L1621,1033.7 L1621.3,1033.7 L1622.4,1033.7 L1622.7,1033.7 L1623.6,1033.7 L1623.8,1128.7 L1624.7,1128.7 L1625,1111.4 L1626.2,1111.4 L1626.5,1059.6 L1627.7,1059.6 L1628,1033.7 L1628.8,1033.7 L1628.8,1137.3 L1629.4,1137.3 L1629.7,1016.5 L1630.6,1016.5 L1630.9,1007.8 L1631.9,1007.8 L1632.1,1016.5 L1633.2,1016.5 L1633.5,1033.7 L1634.4,1033.7 L1634.6,1120.1 L1635.7,1120.1 L1636,1102.8 L1637.5,1102.8 L1637.8,1051 L1639.1,1051 L1639.3,1068.3 L1640.4,1068.3 L1640.7,1120.1 L1641.8,1120.1 L1642.1,1094.2 L1643.1,1094.2 L1643.4,1051 L1644.7,1051 L1645,1068.3 L1646.5,1068.3 L1646.8,1042.4 L1647.9,1042.4 L1648.1,1102.8 L1649.2,1102.8 L1649.5,1016.5 L1651,1016.5 L1651.3,1042.4 L1652.8,1042.4 L1653.1,1016.5 L1654.6,1016.5 L1654.8,1016.5 L1655.4,1016.5 L1656.7,1154.6 L1659.6,981.9 L1660.5,912.8 L1661.4,912.8 L1662.6,1007.8 L1663.9,895.6 L1664.8,895.6 L1665.5,981.9 L1667.4,1154.6 L1670.3,1051 L1671.6,1051" fill="none" stroke="#ff0000" stroke-width="4.17" stroke-linejoin="round" stroke-linecap="butt" clip-path="url(#c2)"/>
<rect x="250" y="852.4" width="1550" height="302.19" fill="none" stroke="#000" stroke-width="2.22"/>
<line x1="402.1" x2="402.1" y1="1154.60" y2="1164.32" stroke="#000" stroke-width="2.22"/>
<line x1="664.4" x2="664.4" y1="1154.60" y2="1164.32" stroke="#000" stroke-width="2.22"/>
<line x1="926.7" x2="926.7" y1="1154.60" y2="1164.32" stroke="#000" stroke-width="2.22"/>
<line x1="1189" x2="1189" y1="1154.60" y2="1164.32" stroke="#000" stroke-width="2.22"/>
<line x1="1451.3" x2="1451.3" y1="1154.60" y2="1164.32" stroke="#000" stroke-width="2.22"/>
<line x1="1713.6" x2="1713.6" y1="1154.60" y2="1164.32" stroke="#000" stroke-width="2.22"/>
<line x1="240.3" x2="250" y1="1154.60" y2="1154.60" stroke="#000" stroke-width="2.22"/>
<text x="231" y="1164.4" font-size="25" text-anchor="end">0</text>
<line x1="240.3" x2="250" y1="1068.26" y2="1068.26" stroke="#000" stroke-width="2.22"/>
<text x="231" y="1078.1" font-size="25" text-anchor="end">10</text>
<line x1="240.3" x2="250" y1="981.92" y2="981.92" stroke="#000" stroke-width="2.22"/>
<text x="231" y="991.7" font-size="25" text-anchor="end">20</text>
<line x1="240.3" x2="250" y1="895.58" y2="895.58" stroke="#000" stroke-width="2.22"/>
<text x="231" y="905.4" font-size="25" text-anchor="end">30</text>
<text transform="translate(183.1,1005.9) rotate(-90)" font-size="22.22" text-anchor="middle">Counts</text>
<rect x="263.8" y="865.6" width="741.7" height="43.4" rx="5" ry="5" fill="#fff" fill-opacity="0.5" stroke="#ccc" stroke-opacity="0.5" stroke-width="2.78"/>
<line x1="271" x2="325" y1="884.7" y2="884.7" stroke="#ff0000" stroke-width="4.17"/>
<text x="341.7" y="893.5" font-size="25" textLength="652.8">Numbers of Persisting Warm Pixels: Front Side CCDs</text>
<path d="M377.2,1481 L381.2,1481 L383.1,1355.8 L384.8,1479.7 L386.2,1411.9 L387.7,1481 L390.3,1481 L391.8,1468 L392,1455.1 L392.6,1455.1 L392.8,1459.4 L393.5,1459.4 L393.7,1463.7 L394.5,1463.7 L394.8,1450.7 L395.8,1450.7 L396,1446.4 L397.1,1446.4 L397.3,1463.7 L398.3,1463.7 L398.6,1463.7 L399.4,1463.7 L399.6,1459.4 L400.5,1459.4 L400.7,1459.4 L401.7,1459.4 L402,1459.4 L403,1459.4 L403.3,1446.4 L404.4,1446.4 L404.7,1455.1 L405.9,1455.1 L406.2,1459.4 L407.1,1459.4 L407.3,1463.7 L407.9,1463.7 L408.1,1476.6 L409,1476.6 L409.2,1472.3 L410.2,1472.3 L410.5,1468 L411.3,1468 L411.5,1468 L412.2,1468 L412.4,1472.3 L413,1472.3 L413.2,1472.3 L413.9,1472.3 L414.1,1472.3 L414.8,1472.3 L415,1472.3 L415.9,1472.3 L416.1,1472.3 L417,1472.3 L417.2,1463.7 L418,1463.7 L418.2,1463.7 L419,1463.7 L419.2,1472.3 L420,1472.3 L420.3,1472.3 L421.3,1472.3 L421.5,1459.4 L422.6,1459.4 L422.8,1463.7 L423.8,1463.7 L424.1,1468 L424.9,1468 L425.1,1463.7 L425.8,1463.7 L426,1463.7 L426.8,1463.7 L427.1,1472.3 L428.1,1472.3 L428.3,1468 L429.4,1468 L429.6,1468 L430.6,1468 L430.9,1472.3 L431.7,1472.3 L431.9,1463.7 L432.6,1463.7 L432.8,1463.7 L433.6,1463.7 L433.8,1468 L434.7,1468 L434.9,1463.7 L435.8,1463.7 L436.1,1472.3 L436.5,1472.3 L436.5,1468 L436.9,1468 L437.1,1468 L438,1468 L438.2,1472.3 L439.1,1472.3 L439.3,1468 L440.1,1468 L440.3,1468 L441.1,1468 L441.3,1468 L441.9,1468 L442.1,1481 L442.8,1481 L443,1472.3 L443.8,1472.3 L444,1476.6 L444.9,1476.6 L445.1,1472.3 L446,1472.3 L446.3,1476.6 L447.2,1476.6 L447.5,1472.3 L448.5,1472.3 L448.7,1476.6 L449.8,1476.6 L450,1472.3 L451,1472.3 L451.3,1472.3 L452.1,1472.3 L452.3,1476.6 L453,1476.6 L453.2,1476.6 L454,1476.6 L454.3,1472.3 L455.3,1472.3 L455.5,1468 L456.6,1468 L456.8,1472.3 L457.8,1472.3 L458.1,1476.6 L459.1,1476.6 L459.4,1472.3 L460.4,1472.3 L460.6,1472.3 L461.7,1472.3 L461.9,1476.6 L462.9,1476.6 L463.2,1476.6 L463.7,1476.6 L463.7,1468 L464,1468 L464.2,1472.3 L464.9,1472.3 L465.1,1472.3 L465.7,1472.3 L465.9,1472.3 L466.6,1472.3 L466.8,1472.3 L467.4,1472.3 L467.6,1472.3 L468.3,1472.3 L468.5,1472.3 L469.1,1472.3 L469.3,1468 L470,1468 L470.2,1468 L471,1468 L471.2,1472.3 L472.1,1472.3 L472.3,1468 L473.2,1468 L473.5,1472.3 L474.2,1472.3 L474.4,1472.3 L475.1,1472.3 L475.3,1468 L476.1,1468 L476.3,1468 L477.2,1468 L477.4,1468 L478.3,1468 L478.6,1468 L479,1468 L479,1455.1 L479.3,1455.1 L479.5,1459.4 L480.2,1459.4 L480.4,1463.7 L481,1463.7 L481.2,1455.1 L481.9,1455.1 L482.1,1455.1 L482.9,1455.1 L483.1,1459.4 L484,1459.4 L484.2,1459.4 L485.1,1459.4 L485.4,1468 L486.1,1468 L486.3,1468 L487.2,1468 L487.4,1468 L488.4,1468 L488.7,1468 L489.5,1468 L489.7,1463.7 L490.4,1463.7 L490.6,1455.1 L491.4,1455.1 L491.6,1459.4 L492.5,1459.4 L492.7,1459.4 L493.6,1459.4 L493.9,1459.4 L494.6,1459.4 L494.8,1455.1 L495.5,1455.1 L495.7,1455.1 L496.3,1455.1 L496.5,1455.1 L497.2,1455.1 L497.4,1459.4 L498,1459.4 L498.2,1459.4 L498.9,1459.4 L499.1,1450.7 L499.7,1450.7 L499.9,1463.7 L500.8,1463.7 L501.1,1455.1 L502.2,1455.1 L502.5,1455.1 L503.7,1455.1 L503.9,1450.7 L504.8,1450.7 L505,1455.1 L505.7,1455.1 L505.9,1463.7 L506.5,1463.7 L506.7,1463.7 L507.4,1463.7 L507.6,1459.4 L508.4,1459.4 L508.6,1463.7 L509.5,1463.7 L509.7,1468 L510.6,1468 L510.9,1468 L511.6,1468 L511.8,1450.7 L512.6,1450.7 L512.8,1463.7 L513.7,1463.7 L514,1455.1 L514.9,1455.1 L515.1,1468 L515.9,1468 L516.1,1455.1 L516.7,1455.1 L516.9,1459.4 L517.6,1459.4 L517.8,1459.4 L518.4,1459.4 L518.6,1455.1 L519.3,1455.1 L519.5,1450.7 L520.3,1450.7 L520.5,1455.1 L521.4,1455.1 L521.6,1455.1 L522.5,1455.1 L522.8,1463.7 L523.2,1463.7 L523.2,1450.7 L523.5,1450.7 L523.7,1455.1 L524.4,1455.1 L524.6,1459.4 L525.2,1459.4 L525.4,1459.4 L526.1,1459.4 L526.3,1455.1 L527.2,1455.1 L527.5,1459.4 L528.6,1459.4 L528.9,1459.4 L530,1459.4 L530.3,1468 L531.5,1468 L531.8,1459.4 L532.9,1459.4 L533.2,1455.1 L534.4,1455.1 L534.7,1455.1 L535.9,1455.1 L536.2,1455.1 L537.2,1455.1 L537.3,1455.1 L538,1455.1 L538.2,1455.1 L539,1455.1 L539.3,1450.7 L540.3,1450.7 L540.6,1446.4 L541.6,1446.4 L541.9,1455.1 L543,1455.1 L543.3,1450.7 L544.5,1450.7 L544.7,1459.4 L545.3,1459.4 L545.3,1446.4 L545.8,1446.4 L546,1468 L546.9,1468 L547.1,1468 L548,1468 L548.3,1472.3 L548.7,1472.3 L548.7,1450.7 L549.2,1450.7 L549.5,1459.4 L550.5,1459.4 L550.8,1459.4 L551.8,1459.4 L552,1455.1 L553,1455.1 L553.3,1450.7 L554.2,1450.7 L554.3,1459.4 L555.1,1459.4 L555.3,1446.4 L556.2,1446.4 L556.4,1442.1 L557.4,1442.1 L557.7,1446.4 L558.9,1446.4 L559.2,1450.7 L560.3,1450.7 L560.5,1459.4 L561.5,1459.4 L561.8,1463.7 L562.7,1463.7 L562.8,1442.1 L563.7,1442.1 L563.9,1446.4 L564.9,1446.4 L565.2,1468 L566.1,1468 L566.2,1446.4 L567,1446.4 L567.2,1450.7 L568,1450.7 L568.3,1455.1 L569.1,1455.1 L569.3,1455.1 L570.2,1455.1 L570.4,1450.7 L571.2,1450.7 L571.3,1463.7 L572,1463.7 L572.2,1468 L572.9,1468 L573,1463.7 L573.7,1463.7 L573.9,1450.7 L574.6,1450.7 L574.9,1455.1 L575.7,1455.1 L575.9,1459.4 L576.8,1459.4 L577,1459.4 L577.8,1459.4 L578,1455.1 L579,1455.1 L579.2,1463.7 L580.2,1463.7 L580.5,1468 L581,1468 L581,1455.1 L581.4,1455.1 L581.5,1455.1 L582.2,1455.1 L582.4,1459.4 L583.1,1459.4 L583.2,1446.4 L583.9,1446.4 L584.1,1442.1 L584.9,1442.1 L585.2,1459.4 L586.2,1459.4 L586.5,1450.7 L587.5,1450.7 L587.7,1459.4 L588.7,1459.4 L589,1459.4 L590,1459.4 L590.2,1459.4 L591.1,1459.4 L591.3,1450.7 L592.2,1450.7 L592.5,1450.7 L593.4,1450.7 L593.6,1455.1 L594.5,1455.1 L594.7,1450.7 L595.6,1450.7 L595.9,1459.4 L596.7,1459.4 L596.8,1450.7 L597.5,1450.7 L597.7,1442.1 L598.6,1442.1 L598.9,1455.1 L600.2,1455.1 L600.5,1450.7 L601.7,1450.7 L602,1446.4 L603.2,1446.4 L603.5,1442.1 L604.7,1442.1 L605.1,1455.1 L606.2,1455.1 L606.5,1442.1 L607.6,1442.1 L607.9,1450.7 L609.1,1450.7 L609.3,1442.1 L610.3,1442.1 L610.4,1437.8 L611.1,1437.8 L611.3,1429.2 L612.1,1429.2 L612.4,1424.8 L613.4,1424.8 L613.7,1420.5 L614.5,1420.5 L614.7,1450.7 L615.5,1450.7 L615.8,1437.8 L616.8,1437.8 L617.1,1429.2 L618.1,1429.2 L618.3,1442.1 L619.4,1442.1 L619.6,1446.4 L620.1,1446.4 L620.1,1437.8 L620.6,1437.8 L620.9,1437.8 L621.9,1437.8 L622.2,1424.8 L623.2,1424.8 L623.4,1424.8 L624.5,1424.8 L624.7,1420.5 L625.6,1420.5 L625.7,1437.8 L626.4,1437.8 L626.6,1437.8 L627.3,1437.8 L627.4,1429.2 L628.1,1429.2 L628.3,1424.8 L629.1,1424.8 L629.4,1424.8 L630.4,1424.8 L630.7,1420.5 L631.7,1420.5 L631.9,1420.5 L633,1420.5 L633.2,1446.4 L634.1,1446.4 L634.2,1429.2 L635,1429.2 L635.2,1446.4 L636.2,1446.4 L636.4,1429.2 L637.3,1429.2 L637.5,1450.7 L638.3,1450.7 L638.5,1416.2 L639.3,1416.2 L639.5,1446.4 L640.4,1446.4 L640.6,1450.7 L641.5,1450.7 L641.8,1450.7 L642.2,1450.7 L642.2,1429.2 L642.8,1429.2 L643.1,1433.5 L644.2,1433.5 L644.5,1446.4 L645.6,1446.4 L645.9,1455.1 L646.5,1455.1 L646.5,1420.5 L647,1420.5 L647.2,1424.8 L648.3,1424.8 L648.5,1429.2 L649.5,1429.2 L649.7,1468 L650.6,1468 L650.9,1459.4 L651.8,1459.4 L652,1429.2 L652.8,1429.2 L652.9,1450.7 L653.6,1450.7 L653.8,1455.1 L654.5,1455.1 L654.6,1437.8 L655.3,1437.8 L655.5,1433.5 L656.2,1433.5 L656.3,1437.8 L657,1437.8 L657.2,1442.1 L657.9,1442.1 L658,1437.8 L658.7,1437.8 L658.9,1433.5 L659.6,1433.5 L659.7,1442.1 L660.4,1442.1 L660.6,1455.1 L661.3,1455.1 L661.4,1450.7 L662.1,1450.7 L662.3,1429.2 L663.1,1429.2 L663.3,1433.5 L664.2,1433.5 L664.4,1433.5 L665.3,1433.5 L665.6,1437.8 L666.4,1437.8 L666.5,1433.5 L667.2,1433.5 L667.4,1429.2 L668.1,1429.2 L668.2,1433.5 L668.9,1433.5 L669.1,1450.7 L669.8,1450.7 L669.9,1446.4 L670.6,1446.4 L670.8,1433.5 L671.7,1433.5 L672,1442.1 L673.3,1442.1 L673.6,1416.2 L674.6,1416.2 L674.8,1416.2 L675.6,1416.2 L675.8,1450.7 L676.6,1450.7 L676.7,1433.5 L677.4,1433.5 L677.6,1433.5 L678.3,1433.5 L678.4,1437.8 L679.1,1437.8 L679.3,1437.8 L680,1437.8 L680.1,1429.2 L680.8,1429.2 L681,1450.7 L681.7,1450.7 L681.8,1450.7 L682.5,1450.7 L682.7,1433.5 L683.5,1433.5 L683.7,1433.5 L684.6,1433.5 L684.8,1433.5 L685.7,1433.5 L686,1437.8 L686.4,1437.8 L686.4,1420.5 L686.8,1420.5 L687.1,1429.2 L687.9,1429.2 L688.1,1429.2 L689,1429.2 L689.2,1429.2 L690,1429.2 L690.2,1424.8 L691,1424.8 L691.2,1437.8 L692,1437.8 L692.3,1424.8 L693.3,1424.8 L693.6,1420.5 L694.7,1420.5 L695,1429.2 L696.2,1429.2 L696.5,1411.9 L697.3,1411.9 L697.3,1411.9 L697.5,1411.9 L697.6,1442.1 L697.9,1442.1 L698.1,1442.1 L698.7,1442.1 L698.9,1437.8 L699.6,1437.8 L699.8,1429.2 L700.5,1429.2 L700.7,1429.2 L701.4,1429.2 L701.6,1437.8 L702.2,1437.8 L702.4,1429.2 L703.1,1429.2 L703.3,1420.5 L704.1,1420.5 L704.4,1450.7 L705.4,1450.7 L705.6,1455.1 L706.5,1455.1 L706.7,1442.1 L707.3,1442.1 L707.5,1424.8 L708.4,1424.8 L708.6,1429.2 L709.6,1429.2 L709.9,1442.1 L710.8,1442.1 L711,1429.2 L711.8,1429.2 L712,1416.2 L713.1,1416.2 L713.4,1433.5 L714.6,1433.5 L714.9,1429.2 L715.6,1429.2 L715.7,1446.4 L716.4,1446.4 L716.6,1433.5 L717.7,1433.5 L717.9,1442.1 L719,1442.1 L719.2,1424.8 L720.1,1424.8 L720.3,1437.8 L721.2,1437.8 L721.5,1424.8 L722.7,1424.8 L723,1420.5 L724.1,1420.5 L724.3,1437.8 L725.1,1437.8 L725.3,1446.4 L726,1446.4 L726.2,1429.2 L727.1,1429.2 L727.4,1424.8 L728.6,1424.8 L728.9,1420.5 L730,1420.5 L730.3,1433.5 L731.3,1433.5 L731.6,1433.5 L732.6,1433.5 L732.8,1433.5 L733.7,1433.5 L733.9,1442.1 L734.7,1442.1 L734.9,1433.5 L735.8,1433.5 L736,1433.5 L736.9,1433.5 L737.1,1420.5 L737.9,1420.5 L738.1,1420.5 L738.8,1420.5 L739,1429.2 L739.6,1429.2 L739.8,1411.9 L740.5,1411.9 L740.7,1411.9 L741.6,1411.9 L741.9,1424.8 L743.1,1424.8 L743.5,1420.5 L744.2,1420.5 L744.3,1433.5 L744.9,1433.5 L745.2,1420.5 L746.2,1420.5 L746.4,1416.2 L747.5,1416.2 L747.7,1429.2 L748.7,1429.2 L749,1446.4 L750,1446.4 L750.3,1437.8 L751.3,1437.8 L751.5,1411.9 L752.4,1411.9 L752.6,1429.2 L753.2,1429.2 L753.4,1429.2 L754.2,1429.2 L754.4,1411.9 L755.3,1411.9 L755.6,1416.2 L756.5,1416.2 L756.7,1411.9 L757.5,1411.9 L757.7,1433.5 L758.6,1433.5 L758.9,1411.9 L760,1411.9 L760.3,1424.8 L761.4,1424.8 L761.7,1407.6 L762.6,1407.6 L762.8,1416.2 L763.4,1416.2 L763.6,1433.5 L764.5,1433.5 L764.7,1407.6 L765.7,1407.6 L766,1407.6 L767,1407.6 L767.3,1411.9 L768.3,1411.9 L768.5,1433.5 L769.3,1433.5 L769.4,1403.3 L770.1,1403.3 L770.4,1407.6 L771.6,1407.6 L771.9,1407.6 L772.9,1407.6 L773.2,1437.8 L774.1,1437.8 L774.3,1420.5 L775.2,1420.5 L775.4,1390.3 L776.4,1390.3 L776.6,1398.9 L777.6,1398.9 L777.9,1407.6 L778.7,1407.6 L778.9,1394.6 L779.6,1394.6 L779.8,1398.9 L780.4,1398.9 L780.6,1403.3 L781.3,1403.3 L781.5,1398.9 L782.1,1398.9 L782.3,1394.6 L782.9,1394.6 L783,1433.5 L783.6,1433.5 L783.8,1411.9 L784.6,1411.9 L784.8,1403.3 L785.6,1403.3 L785.8,1398.9 L786.6,1398.9 L786.8,1394.6 L787.4,1394.6 L787.6,1429.2 L788.3,1429.2 L788.5,1411.9 L789.5,1411.9 L789.8,1411.9 L790.9,1411.9 L791.1,1442.1 L792.2,1442.1 L792.5,1407.6 L793.7,1407.6 L794,1398.9 L795.1,1398.9 L795.3,1411.9 L796.3,1411.9 L796.6,1416.2 L797.4,1416.2 L797.6,1416.2 L798.3,1416.2 L798.5,1398.9 L799.1,1398.9 L799.3,1411.9 L800,1411.9 L800.2,1416.2 L800.8,1416.2 L801,1411.9 L801.7,1411.9 L801.9,1403.3 L802.5,1403.3 L802.7,1433.5 L803.6,1433.5 L803.8,1420.5 L804.8,1420.5 L805.1,1407.6 L806.1,1407.6 L806.4,1411.9 L807.4,1411.9 L807.6,1424.8 L808.5,1424.8 L808.7,1403.3 L809.3,1403.3 L809.5,1407.6 L810.2,1407.6 L810.4,1420.5 L811,1420.5 L811.2,1420.5 L811.9,1420.5 L812.1,1411.9 L812.5,1411.9 L812.6,1442.1 L813.4,1442.1 L813.7,1411.9 L814.9,1411.9 L815.2,1403.3 L816.1,1403.3 L816.3,1407.6 L817,1407.6 L817.2,1429.2 L817.8,1429.2 L818,1394.6 L818.7,1394.6 L818.9,1398.9 L819.7,1398.9 L819.9,1403.3 L820.7,1403.3 L820.9,1386 L821.7,1386 L821.9,1373 L822.4,1373 L822.5,1411.9 L823.1,1411.9 L823.3,1403.3 L824.2,1403.3 L824.4,1386 L825.3,1386 L825.6,1381.7 L826.3,1381.7 L826.5,1390.3 L827.2,1390.3 L827.4,1420.5 L828,1420.5 L828.2,1398.9 L828.9,1398.9 L829.1,1403.3 L829.7,1403.3 L829.9,1407.6 L830.6,1407.6 L830.8,1398.9 L831.4,1398.9 L831.6,1394.6 L832.4,1394.6 L832.6,1420.5 L833.5,1420.5 L833.7,1433.5 L834.6,1433.5 L834.8,1429.2 L835.6,1429.2 L835.8,1394.6 L836.7,1394.6 L836.9,1411.9 L837.8,1411.9 L838,1403.3 L838.9,1403.3 L839.2,1429.2 L839.9,1429.2 L840.1,1398.9 L840.9,1398.9 L841.1,1407.6 L841.9,1407.6 L842.2,1411.9 L843,1411.9 L843.2,1394.6 L844.1,1394.6 L844.3,1390.3 L845,1390.3 L845.2,1429.2 L846.1,1429.2 L846.3,1403.3 L847.3,1403.3 L847.6,1403.3 L848.4,1403.3 L848.6,1416.2 L849.3,1416.2 L849.5,1420.5 L850.1,1420.5 L850.3,1416.2 L851,1416.2 L851.2,1411.9 L851.8,1411.9 L852,1437.8 L852.8,1437.8 L853,1416.2 L853.9,1416.2 L854.2,1424.8 L855.1,1424.8 L855.3,1407.6 L856.1,1407.6 L856.3,1424.8 L857,1424.8 L857.1,1429.2 L857.9,1429.2 L858.1,1424.8 L859,1424.8 L859.3,1416.2 L860.2,1416.2 L860.4,1411.9 L861.3,1411.9 L861.5,1420.5 L862.4,1420.5 L862.6,1450.7 L863.6,1450.7 L863.9,1429.2 L865.1,1429.2 L865.4,1403.3 L866.3,1403.3 L866.5,1429.2 L867.2,1429.2 L867.3,1433.5 L868.2,1433.5 L868.4,1416.2 L869.4,1416.2 L869.7,1411.9 L870.8,1411.9 L871.1,1416.2 L872.2,1416.2 L872.5,1429.2 L873.6,1429.2 L873.9,1433.5 L874.5,1433.5 L874.5,1416.2 L875,1416.2 L875.2,1411.9 L876.2,1411.9 L876.5,1407.6 L877.6,1407.6 L877.9,1416.2 L879.2,1416.2 L879.5,1390.3 L880.2,1390.3 L880.3,1424.8 L880.9,1424.8 L881.1,1407.6 L882,1407.6 L882.2,1407.6 L883.1,1407.6 L883.4,1403.3 L884.2,1403.3 L884.3,1411.9 L885,1411.9 L885.2,1420.5 L885.9,1420.5 L886.1,1407.6 L886.9,1407.6 L887.1,1394.6 L888.1,1394.6 L888.3,1407.6 L889.4,1407.6 L889.6,1420.5 L890.7,1420.5 L890.9,1429.2 L891.8,1429.2 L892,1403.3 L892.8,1403.3 L893,1411.9 L894,1411.9 L894.2,1416.2 L895.2,1416.2 L895.4,1411.9 L896.4,1411.9 L896.6,1394.6 L897.5,1394.6 L897.7,1407.6 L898.5,1407.6 L898.7,1429.2 L899.5,1429.2 L899.6,1420.5 L900.3,1420.5 L900.5,1403.3 L901.3,1403.3 L901.5,1411.9 L902.4,1411.9 L902.6,1416.2 L903.5,1416.2 L903.8,1424.8 L904.3,1424.8 L904.4,1386 L905.1,1386 L905.3,1407.6 L906.4,1407.6 L906.6,1424.8 L907.7,1424.8 L907.9,1433.5 L908.5,1433.5 L908.5,1411.9 L909,1411.9 L909.2,1411.9 L910.2,1411.9 L910.5,1407.6 L911.5,1407.6 L911.7,1407.6 L912.6,1407.6 L912.8,1416.2 L913.7,1416.2 L914,1424.8 L914.8,1424.8 L914.9,1420.5 L915.6,1420.5 L915.8,1403.3 L916.5,1403.3 L916.7,1407.6 L917.4,1407.6 L917.6,1411.9 L918.4,1411.9 L918.5,1403.3 L919.3,1403.3 L919.5,1398.9 L920.4,1398.9 L920.7,1424.8 L921.7,1424.8 L922,1420.5 L923,1420.5 L923.3,1407.6 L924.2,1407.6 L924.4,1420.5 L925.3,1420.5 L925.5,1437.8 L926.6,1437.8 L926.8,1420.5 L928,1420.5 L928.3,1386 L929.4,1386 L929.6,1403.3 L930.6,1403.3 L930.9,1424.8 L931.8,1424.8 L931.9,1398.9 L932.7,1398.9 L932.9,1411.9 L933.8,1411.9 L934,1411.9 L934.8,1411.9 L935,1411.9 L935.9,1411.9 L936.1,1390.3 L937,1390.3 L937.2,1390.3 L938.1,1390.3 L938.3,1394.6 L939.2,1394.6 L939.5,1424.8 L939.9,1424.8 L939.9,1394.6 L940.4,1394.6 L940.7,1403.3 L941.7,1403.3 L942,1407.6 L943,1407.6 L943.2,1394.6 L944.3,1394.6 L944.5,1381.7 L945.5,1381.7 L945.8,1411.9 L946.8,1411.9 L947.1,1420.5 L948.1,1420.5 L948.3,1386 L949.4,1386 L949.6,1377.4 L950.6,1377.4 L950.9,1390.3 L951.9,1390.3 L952.2,1394.6 L953.1,1394.6 L953.4,1368.7 L954.4,1368.7 L954.6,1373 L955.6,1373 L955.9,1424.8 L957,1424.8 L957.2,1381.7 L958.3,1381.7 L958.6,1390.3 L959.7,1390.3 L960,1386 L961.2,1386 L961.4,1407.6 L962,1407.6 L962,1386 L962.5,1386 L962.8,1386 L963.8,1386 L964.1,1390.3 L964.9,1390.3 L965.1,1416.2 L965.8,1416.2 L965.9,1424.8 L966.6,1424.8 L966.8,1420.5 L967.5,1420.5 L967.6,1381.7 L968.4,1381.7 L968.6,1420.5 L969.6,1420.5 L969.8,1420.5 L970.7,1420.5 L970.9,1429.2 L971.4,1429.2 L971.4,1411.9 L971.8,1411.9 L972,1416.2 L972.9,1416.2 L973.1,1416.2 L973.9,1416.2 L974.1,1416.2 L975,1416.2 L975.2,1381.7 L976,1381.7 L976.1,1424.8 L977,1424.8 L977.2,1403.3 L978.3,1403.3 L978.5,1381.7 L979.4,1381.7 L979.5,1386 L980.2,1386 L980.4,1416.2 L981.1,1416.2 L981.2,1398.9 L981.9,1398.9 L982.1,1377.4 L983,1377.4 L983.3,1377.4 L984.4,1377.4 L984.7,1381.7 L985.8,1381.7 L986.1,1407.6 L986.7,1407.6 L986.7,1381.7 L987.1,1381.7 L987.3,1394.6 L988.2,1394.6 L988.4,1394.6 L989.2,1394.6 L989.4,1381.7 L990.3,1381.7 L990.5,1373 L991.4,1373 L991.6,1394.6 L992.5,1394.6 L992.7,1411.9 L993.7,1411.9 L994,1407.6 L995.2,1407.6 L995.4,1381.7 L996.4,1381.7 L996.5,1381.7 L997.2,1381.7 L997.4,1394.6 L998.1,1394.6 L998.2,1381.7 L999.2,1381.7 L999.5,1390.3 L1000.7,1390.3 L1001,1368.7 L1001.8,1368.7 L1001.8,1398.9 L1002.4,1398.9 L1002.6,1398.9 L1003.6,1398.9 L1003.8,1394.6 L1004.7,1394.6 L1004.9,1394.6 L1005.7,1394.6 L1005.9,1411.9 L1006.7,1411.9 L1006.9,1394.6 L1007.8,1394.6 L1008,1386 L1008.9,1386 L1009.2,1386 L1010,1386 L1010.1,1398.9 L1010.8,1398.9 L1011,1420.5 L1011.8,1420.5 L1012.1,1411.9 L1013.1,1411.9 L1013.4,1394.6 L1014.4,1394.6 L1014.6,1407.6 L1015.7,1407.6 L1015.9,1416.2 L1016.8,1416.2 L1016.9,1411.9 L1017.6,1411.9 L1017.8,1386 L1018.7,1386 L1019,1390.3 L1020.3,1390.3 L1020.6,1437.8 L1021.3,1437.8 L1021.4,1398.9 L1021.9,1398.9 L1022,1398.9 L1022.7,1398.9 L1022.9,1416.2 L1023.6,1416.2 L1023.7,1411.9 L1024.4,1411.9 L1024.6,1394.6 L1025.3,1394.6 L1025.4,1433.5 L1026.2,1433.5 L1026.5,1429.2 L1027.4,1429.2 L1027.6,1420.5 L1028.5,1420.5 L1028.7,1386 L1029.5,1386 L1029.7,1386 L1030.3,1386 L1030.5,1416.2 L1031.2,1416.2 L1031.4,1433.5 L1032,1433.5 L1032.2,1407.6 L1032.9,1407.6 L1033.1,1403.3 L1033.9,1403.3 L1034.2,1407.6 L1035.2,1407.6 L1035.4,1437.8 L1036.3,1437.8 L1036.5,1394.6 L1037.2,1394.6 L1037.4,1394.6 L1038.3,1394.6 L1038.5,1403.3 L1039.4,1403.3 L1039.6,1403.3 L1040.4,1403.3 L1040.6,1386 L1041.4,1386 L1041.6,1403.3 L1042.4,1403.3 L1042.6,1373 L1043.5,1373 L1043.7,1377.4 L1044.6,1377.4 L1044.8,1364.4 L1045.6,1364.4 L1045.8,1381.7 L1046.5,1381.7 L1046.7,1411.9 L1047.3,1411.9 L1047.5,1390.3 L1048.2,1390.3 L1048.4,1390.3 L1049.1,1390.3 L1049.3,1398.9 L1050,1398.9 L1050.2,1398.9 L1050.9,1398.9 L1051.1,1398.9 L1051.9,1398.9 L1052.1,1381.7 L1053,1381.7 L1053.3,1411.9 L1054.3,1411.9 L1054.6,1394.6 L1055.6,1394.6 L1055.8,1386 L1056.7,1386 L1056.9,1390.3 L1057.5,1390.3 L1057.7,1407.6 L1058.4,1407.6 L1058.6,1403.3 L1059.2,1403.3 L1059.4,1398.9 L1060.1,1398.9 L1060.3,1420.5 L1061.1,1420.5 L1061.4,1411.9 L1062.4,1411.9 L1062.6,1394.6 L1063.6,1394.6 L1063.8,1403.3 L1064.6,1403.3 L1064.9,1411.9 L1065.7,1411.9 L1065.9,1407.6 L1066.8,1407.6 L1067,1407.6 L1067.7,1407.6 L1067.9,1424.8 L1068.6,1424.8 L1068.8,1429.2 L1069.6,1429.2 L1069.8,1420.5 L1070.7,1420.5 L1070.9,1420.5 L1071.8,1420.5 L1072,1398.9 L1073,1398.9 L1073.2,1411.9 L1074.1,1411.9 L1074.3,1407.6 L1075.2,1407.6 L1075.4,1416.2 L1075.9,1416.2 L1075.9,1398.9 L1076.3,1398.9 L1076.5,1403.3 L1077.4,1403.3 L1077.6,1403.3 L1078.5,1403.3 L1078.7,1398.9 L1079.5,1398.9 L1079.7,1377.4 L1080.7,1377.4 L1080.9,1411.9 L1081.9,1411.9 L1082.2,1416.2 L1083,1416.2 L1083.2,1390.3 L1083.9,1390.3 L1084.1,1377.4 L1085,1377.4 L1085.3,1420.5 L1086.4,1420.5 L1086.7,1420.5 L1087.6,1420.5 L1087.8,1386 L1088.5,1386 L1088.7,1373 L1089.4,1373 L1089.7,1398.9 L1090.5,1398.9 L1090.8,1407.6 L1091.5,1407.6 L1091.7,1386 L1092.4,1386 L1092.6,1411.9 L1093.2,1411.9 L1093.4,1411.9 L1094.1,1411.9 L1094.3,1407.6 L1094.9,1407.6 L1095.1,1407.6 L1095.8,1407.6 L1096,1424.8 L1096.6,1424.8 L1096.8,1429.2 L1097.7,1429.2 L1098,1407.6 L1099.1,1407.6 L1099.4,1411.9 L1100.6,1411.9 L1100.8,1407.6 L1101.7,1407.6 L1101.9,1411.9 L1102.6,1411.9 L1102.8,1429.2 L1103.6,1429.2 L1103.8,1424.8 L1104.7,1424.8 L1104.9,1420.5 L1105.8,1420.5 L1106.1,1407.6 L1106.8,1407.6 L1107,1420.5 L1107.7,1420.5 L1107.9,1424.8 L1108.5,1424.8 L1108.7,1411.9 L1109.4,1411.9 L1109.6,1411.9 L1110.4,1411.9 L1110.7,1416.2 L1111.7,1416.2 L1111.9,1437.8 L1112.8,1437.8 L1113,1411.9 L1113.6,1411.9 L1113.8,1394.6 L1114.7,1394.6 L1115,1407.6 L1116.1,1407.6 L1116.4,1407.6 L1117.6,1407.6 L1117.8,1416.2 L1118.4,1416.2 L1118.4,1381.7 L1118.8,1381.7 L1119,1386 L1119.9,1386 L1120.1,1394.6 L1121,1394.6 L1121.2,1386 L1122,1386 L1122.2,1377.4 L1123,1377.4 L1123.2,1407.6 L1124,1407.6 L1124.2,1394.6 L1125.1,1394.6 L1125.3,1403.3 L1126.2,1403.3 L1126.5,1386 L1127.2,1386 L1127.4,1416.2 L1128.1,1416.2 L1128.3,1424.8 L1129.1,1424.8 L1129.3,1420.5 L1130.2,1420.5 L1130.4,1386 L1131.3,1386 L1131.6,1368.7 L1132.3,1368.7 L1132.5,1381.7 L1133.2,1381.7 L1133.4,1398.9 L1134.2,1398.9 L1134.5,1394.6 L1135.5,1394.6 L1135.7,1381.7 L1136.8,1381.7 L1137,1381.7 L1138,1381.7 L1138.3,1386 L1138.9,1386 L1139,1416.2 L1139.8,1416.2 L1140.1,1398.9 L1141.3,1398.9 L1141.6,1360.1 L1142.5,1360.1 L1142.7,1407.6 L1143.6,1407.6 L1143.8,1398.9 L1144.8,1398.9 L1145.1,1386 L1145.9,1386 L1146.1,1420.5 L1147,1420.5 L1147.2,1416.2 L1148.2,1416.2 L1148.5,1398.9 L1149.3,1398.9 L1149.5,1429.2 L1150.2,1429.2 L1150.4,1420.5 L1151,1420.5 L1151.2,1403.3 L1151.9,1403.3 L1152.1,1407.6 L1152.7,1407.6 L1152.9,1433.5 L1153.8,1433.5 L1154.1,1394.6 L1155,1394.6 L1155.2,1437.8 L1156,1437.8 L1156.2,1459.4 L1157,1459.4 L1157.2,1420.5 L1157.8,1420.5 L1158,1429.2 L1158.7,1429.2 L1158.9,1429.2 L1159.5,1429.2 L1159.7,1424.8 L1160.4,1424.8 L1160.6,1416.2 L1161.2,1416.2 L1161.4,1437.8 L1162.3,1437.8 L1162.5,1429.2 L1163.5,1429.2 L1163.8,1416.2 L1164.6,1416.2 L1164.8,1420.5 L1165.5,1420.5 L1165.7,1437.8 L1166.4,1437.8 L1166.6,1433.5 L1167.4,1433.5 L1167.6,1407.6 L1168.6,1407.6 L1168.9,1450.7 L1169.7,1450.7 L1169.9,1416.2 L1170.6,1416.2 L1170.8,1416.2 L1171.6,1416.2 L1171.9,1450.7 L1172.9,1450.7 L1173.1,1455.1 L1174,1455.1 L1174.2,1424.8 L1175,1424.8 L1175.2,1429.2 L1176.1,1429.2 L1176.3,1429.2 L1177.2,1429.2 L1177.5,1437.8 L1177.9,1437.8 L1177.9,1420.5 L1178.3,1420.5 L1178.5,1424.8 L1179.2,1424.8 L1179.4,1424.8 L1180.2,1424.8 L1180.3,1411.9 L1181.1,1411.9 L1181.3,1398.9 L1182.2,1398.9 L1182.5,1429.2 L1183.5,1429.2 L1183.8,1424.8 L1184.8,1424.8 L1185,1411.9 L1186,1411.9 L1186.3,1446.4 L1187.4,1446.4 L1187.7,1437.8 L1188.9,1437.8 L1189.2,1407.6 L1190.3,1407.6 L1190.6,1429.2 L1191.6,1429.2 L1191.8,1433.5 L1192.7,1433.5 L1192.9,1407.6 L1193.8,1407.6 L1194.1,1416.2 L1195.2,1416.2 L1195.5,1407.6 L1196.6,1407.6 L1196.9,1420.5 L1197.5,1420.5 L1197.5,1403.3 L1197.8,1403.3 L1198,1403.3 L1198.7,1403.3 L1198.8,1407.6 L1199.5,1407.6 L1199.7,1398.9 L1200.4,1398.9 L1200.5,1398.9 L1201.2,1398.9 L1201.4,1420.5 L1202.1,1420.5 L1202.2,1424.8 L1203,1424.8 L1203.2,1411.9 L1204,1411.9 L1204.2,1377.4 L1205,1377.4 L1205.3,1381.7 L1206.1,1381.7 L1206.4,1433.5 L1207.2,1433.5 L1207.3,1403.3 L1208.2,1403.3 L1208.4,1420.5 L1209.4,1420.5 L1209.7,1420.5 L1210.6,1420.5 L1210.7,1442.1 L1211.5,1442.1 L1211.7,1416.2 L1212.6,1416.2 L1212.9,1429.2 L1213.8,1429.2 L1214,1403.3 L1214.8,1403.3 L1215,1429.2 L1215.8,1429.2 L1216.1,1394.6 L1217.1,1394.6 L1217.3,1429.2 L1218.3,1429.2 L1218.6,1394.6 L1219.3,1394.6 L1219.4,1420.5 L1220,1420.5 L1220.2,1411.9 L1221.1,1411.9 L1221.4,1416.2 L1222.3,1416.2 L1222.5,1411.9 L1223.5,1411.9 L1223.7,1429.2 L1224.7,1429.2 L1225,1433.5 L1225.9,1433.5 L1226,1433.5 L1226.7,1433.5 L1226.9,1407.6 L1227.6,1407.6 L1227.8,1416.2 L1228.6,1416.2 L1228.8,1446.4 L1229.7,1446.4 L1229.9,1416.2 L1230.8,1416.2 L1231,1390.3 L1231.8,1390.3 L1232,1416.2 L1232.7,1416.2 L1232.8,1424.8 L1233.7,1424.8 L1233.9,1416.2 L1234.9,1416.2 L1235.2,1407.6 L1236.1,1407.6 L1236.2,1407.6 L1236.9,1407.6 L1237.1,1429.2 L1238,1429.2 L1238.3,1420.5 L1239.4,1420.5 L1239.7,1407.6 L1240.8,1407.6 L1241.1,1394.6 L1242,1394.6 L1242.2,1411.9 L1242.9,1411.9 L1243,1416.2 L1243.7,1416.2 L1243.9,1411.9 L1244.6,1411.9 L1244.7,1394.6 L1245.4,1394.6 L1245.6,1398.9 L1246.3,1398.9 L1246.4,1403.3 L1247.1,1403.3 L1247.3,1390.3 L1248,1390.3 L1248.1,1386 L1248.8,1386 L1249,1411.9 L1249.8,1411.9 L1250.1,1407.6 L1251.1,1407.6 L1251.4,1398.9 L1252.2,1398.9 L1252.4,1407.6 L1253.1,1407.6 L1253.2,1411.9 L1253.9,1411.9 L1254.1,1407.6 L1254.8,1407.6 L1254.9,1394.6 L1255.6,1394.6 L1255.8,1433.5 L1256.6,1433.5 L1256.9,1420.5 L1257.9,1420.5 L1258.2,1411.9 L1259,1411.9 L1259.2,1416.2 L1259.9,1416.2 L1260,1424.8 L1260.7,1424.8 L1260.9,1398.9 L1261.6,1398.9 L1261.7,1407.6 L1262.4,1407.6 L1262.6,1411.9 L1263.3,1411.9 L1263.4,1411.9 L1264.1,1411.9 L1264.3,1407.6 L1265,1407.6 L1265.1,1424.8 L1266,1424.8 L1266.2,1407.6 L1267.2,1407.6 L1267.5,1398.9 L1268.4,1398.9 L1268.6,1411.9 L1269.4,1411.9 L1269.6,1437.8 L1270.6,1437.8 L1270.9,1411.9 L1271.9,1411.9 L1272.1,1416.2 L1273,1416.2 L1273.2,1416.2 L1274.1,1416.2 L1274.4,1424.8 L1274.8,1424.8 L1274.8,1394.6 L1275.2,1394.6 L1275.3,1407.6 L1276,1407.6 L1276.2,1411.9 L1276.9,1411.9 L1277,1411.9 L1277.7,1411.9 L1277.9,1403.3 L1278.6,1403.3 L1278.7,1429.2 L1279.5,1429.2 L1279.7,1407.6 L1280.6,1407.6 L1280.8,1398.9 L1281.7,1398.9 L1281.9,1424.8 L1282.7,1424.8 L1282.9,1442.1 L1283.7,1442.1 L1283.8,1420.5 L1284.5,1420.5 L1284.7,1411.9 L1285.6,1411.9 L1285.9,1420.5 L1287.2,1420.5 L1287.5,1398.9 L1288.2,1398.9 L1288.3,1424.8 L1288.8,1424.8 L1289.1,1424.8 L1289.9,1424.8 L1290.1,1416.2 L1291,1416.2 L1291.2,1416.2 L1292,1416.2 L1292.2,1433.5 L1292.7,1433.5 L1292.7,1407.6 L1293.1,1407.6 L1293.3,1416.2 L1294.2,1416.2 L1294.4,1420.5 L1295.2,1420.5 L1295.4,1416.2 L1296.3,1416.2 L1296.5,1416.2 L1297.5,1416.2 L1297.7,1433.5 L1298.9,1433.5 L1299.1,1407.6 L1300.3,1407.6 L1300.6,1403.3 L1301.7,1403.3 L1301.9,1411.9 L1303,1411.9 L1303.2,1420.5 L1304.1,1420.5 L1304.2,1398.9 L1304.9,1398.9 L1305.1,1407.6 L1305.9,1407.6 L1306.1,1407.6 L1306.8,1407.6 L1307,1373 L1307.7,1373 L1307.9,1368.7 L1308.7,1368.7 L1309,1394.6 L1309.9,1394.6 L1310.1,1420.5 L1310.9,1420.5 L1311,1381.7 L1311.7,1381.7 L1311.9,1377.4 L1312.7,1377.4 L1313,1390.3 L1314,1390.3 L1314.3,1394.6 L1315.3,1394.6 L1315.6,1433.5 L1316.5,1433.5 L1316.7,1420.5 L1317.6,1420.5 L1317.8,1377.4 L1318.7,1377.4 L1319,1386 L1320.2,1386 L1320.4,1403.3 L1321.6,1403.3 L1321.9,1420.5 L1322.4,1420.5 L1322.4,1390.3 L1322.8,1390.3 L1323.1,1398.9 L1323.9,1398.9 L1324.1,1403.3 L1325,1403.3 L1325.2,1394.6 L1326,1394.6 L1326.2,1381.7 L1327,1381.7 L1327.2,1420.5 L1328,1420.5 L1328.2,1416.2 L1329.1,1416.2 L1329.3,1420.5 L1330.2,1420.5 L1330.5,1411.9 L1331.3,1411.9 L1331.4,1437.8 L1332.3,1437.8 L1332.6,1407.6 L1333.8,1407.6 L1334.1,1381.7 L1335.3,1381.7 L1335.6,1411.9 L1336.8,1411.9 L1337.1,1398.9 L1338.1,1398.9 L1338.2,1424.8 L1339.1,1424.8 L1339.3,1403.3 L1340.4,1403.3 L1340.6,1373 L1341.6,1373 L1341.9,1390.3 L1342.9,1390.3 L1343.2,1411.9 L1344,1411.9 L1344.2,1407.6 L1344.9,1407.6 L1345,1373 L1345.9,1373 L1346.1,1377.4 L1347.2,1377.4 L1347.4,1381.7 L1348.4,1381.7 L1348.7,1368.7 L1349.7,1368.7 L1350,1364.4 L1350.8,1364.4 L1351,1403.3 L1351.8,1403.3 L1352.1,1373 L1353.1,1373 L1353.4,1368.7 L1354.4,1368.7 L1354.6,1368.7 L1355.7,1368.7 L1355.9,1364.4 L1356.8,1364.4 L1356.9,1377.4 L1357.6,1377.4 L1357.8,1403.3 L1358.5,1403.3 L1358.7,1386 L1359.4,1386 L1359.6,1360.1 L1360.4,1360.1 L1360.5,1368.7 L1361.3,1368.7 L1361.4,1394.6 L1362.3,1394.6 L1362.5,1390.3 L1363.5,1390.3 L1363.7,1355.8 L1364.7,1355.8 L1364.9,1351.5 L1365.8,1351.5 L1365.9,1355.8 L1366.7,1355.8 L1366.9,1407.6 L1367.6,1407.6 L1367.8,1386 L1368.5,1386 L1368.7,1364.4 L1369.5,1364.4 L1369.7,1390.3 L1370.7,1390.3 L1370.9,1390.3 L1371.9,1390.3 L1372.1,1420.5 L1373,1420.5 L1373.2,1368.7 L1374,1368.7 L1374.2,1394.6 L1375.2,1394.6 L1375.4,1420.5 L1376.4,1420.5 L1376.6,1420.5 L1377.5,1420.5 L1377.7,1368.7 L1378.6,1368.7 L1378.9,1368.7 L1380.1,1368.7 L1380.4,1390.3 L1381.6,1390.3 L1381.9,1398.9 L1382.5,1398.9 L1382.5,1377.4 L1382.9,1377.4 L1383.1,1386 L1383.8,1386 L1384,1390.3 L1384.7,1390.3 L1384.9,1386 L1385.6,1386 L1385.8,1377.4 L1386.7,1377.4 L1387,1403.3 L1388,1403.3 L1388.3,1411.9 L1389.5,1411.9 L1389.8,1364.4 L1391.1,1364.4 L1391.4,1355.8 L1392.6,1355.8 L1392.9,1386 L1393.9,1386 L1394.2,1386 L1395.3,1386 L1395.5,1390.3 L1396.2,1390.3 L1396.3,1321.2 L1397.1,1321.2 L1397.4,1381.7 L1398.7,1381.7 L1399,1368.7 L1400.2,1368.7 L1400.5,1377.4 L1401.6,1377.4 L1401.8,1394.6 L1402.7,1394.6 L1402.9,1373 L1403.7,1373 L1404,1407.6 L1405,1407.6 L1405.2,1416.2 L1406.2,1416.2 L1406.4,1416.2 L1406.9,1416.2 L1406.9,1386 L1407.3,1386 L1407.5,1394.6 L1408.5,1394.6 L1408.7,1403.3 L1409.6,1403.3 L1409.8,1390.3 L1410.7,1390.3 L1410.9,1377.4 L1411.8,1377.4 L1412,1403.3 L1412.9,1403.3 L1413.1,1429.2 L1414.1,1429.2 L1414.4,1381.7 L1415.5,1381.7 L1415.8,1390.3 L1416.9,1390.3 L1417.1,1416.2 L1418.1,1416.2 L1418.2,1411.9 L1419,1411.9 L1419.1,1381.7 L1420,1381.7 L1420.2,1386 L1421.2,1386 L1421.4,1394.6 L1422.4,1394.6 L1422.6,1420.5 L1423.1,1420.5 L1423.1,1390.3 L1423.6,1390.3 L1423.9,1411.9 L1425,1411.9 L1425.3,1407.6 L1426.3,1407.6 L1426.6,1398.9 L1427.7,1398.9 L1428,1411.9 L1428.9,1411.9 L1429,1368.7 L1429.8,1368.7 L1429.9,1381.7 L1430.7,1381.7 L1430.9,1394.6 L1431.6,1394.6 L1431.8,1390.3 L1432.5,1390.3 L1432.7,1381.7 L1433.4,1381.7 L1433.6,1403.3 L1434.3,1403.3 L1434.5,1407.6 L1435.2,1407.6 L1435.4,1373 L1436.1,1373 L1436.3,1381.7 L1437.2,1381.7 L1437.4,1386 L1438.2,1386 L1438.4,1381.7 L1439.2,1381.7 L1439.5,1360.1 L1440.3,1360.1 L1440.5,1390.3 L1441.4,1390.3 L1441.6,1429.2 L1442.5,1429.2 L1442.7,1351.5 L1443.7,1351.5 L1443.9,1338.5 L1444.8,1338.5 L1445,1377.4 L1445.9,1377.4 L1446.1,1386 L1446.9,1386 L1447.1,1338.5 L1448,1338.5 L1448.4,1360.1 L1449.6,1360.1 L1449.9,1338.5 L1451.2,1338.5 L1451.5,1364.4 L1452.8,1364.4 L1453.1,1394.6 L1453.7,1394.6 L1453.7,1360.1 L1454.1,1360.1 L1454.3,1364.4 L1455,1364.4 L1455.2,1377.4 L1455.9,1377.4 L1456.1,1373 L1456.8,1373 L1457,1364.4 L1457.7,1364.4 L1457.9,1368.7 L1458.6,1368.7 L1458.8,1394.6 L1459.5,1394.6 L1459.7,1364.4 L1460.4,1364.4 L1460.6,1360.1 L1461.5,1360.1 L1461.8,1381.7 L1462.9,1381.7 L1463.1,1394.6 L1464.2,1394.6 L1464.5,1377.4 L1465.6,1377.4 L1465.8,1351.5 L1466.8,1351.5 L1467.1,1355.8 L1468,1355.8 L1468.3,1360.1 L1469.3,1360.1 L1469.5,1373 L1470.5,1373 L1470.8,1325.5 L1472,1325.5 L1472.3,1364.4 L1473.6,1364.4 L1473.9,1390.3 L1474.8,1390.3 L1475,1373 L1475.8,1373 L1476,1377.4 L1476.9,1377.4 L1477.1,1424.8 L1477.8,1424.8 L1477.9,1373 L1478.5,1373 L1478.7,1377.4 L1479.5,1377.4 L1479.7,1390.3 L1480.5,1390.3 L1480.7,1373 L1481.5,1373 L1481.7,1342.8 L1482.3,1342.8 L1482.4,1386 L1483.1,1386 L1483.4,1381.7 L1484.5,1381.7 L1484.8,1360.1 L1485.4,1360.1 L1485.5,1407.6 L1486.3,1407.6 L1486.6,1390.3 L1487.9,1390.3 L1488.3,1364.4 L1489.3,1364.4 L1489.4,1403.3 L1490.3,1403.3 L1490.6,1368.7 L1491.7,1368.7 L1492,1329.9 L1492.9,1329.9 L1493,1329.9 L1493.8,1329.9 L1493.9,1373 L1494.3,1373 L1494.3,1304 L1494.8,1304 L1495,1316.9 L1496,1316.9 L1496.2,1308.3 L1497.2,1308.3 L1497.4,1360.1 L1497.9,1360.1 L1497.9,1321.2 L1498.5,1321.2 L1498.7,1295.3 L1499.8,1295.3 L1500.1,1291 L1501.2,1291 L1501.4,1304 L1502.5,1304 L1502.8,1373 L1503.3,1373 L1503.3,1299.6 L1503.9,1299.6 L1504.1,1312.6 L1505.2,1312.6 L1505.5,1312.6 L1506.6,1312.6 L1506.8,1342.8 L1507.9,1342.8 L1508.2,1377.4 L1509.1,1377.4 L1509.3,1329.9 L1510.1,1329.9 L1510.4,1334.2 L1511.3,1334.2 L1511.6,1334.2 L1512.5,1334.2 L1512.8,1398.9 L1513.2,1398.9 L1513.2,1351.5 L1513.7,1351.5 L1514,1403.3 L1514.9,1403.3 L1515.2,1390.3 L1516.1,1390.3 L1516.4,1420.5 L1516.8,1420.5 L1516.8,1386 L1517.2,1386 L1517.4,1390.3 L1518.2,1390.3 L1518.4,1394.6 L1519.2,1394.6 L1519.4,1381.7 L1520.2,1381.7 L1520.4,1355.8 L1521.4,1355.8 L1521.7,1394.6 L1522.8,1394.6 L1523.1,1373 L1524.1,1373 L1524.4,1355.8 L1525.5,1355.8 L1525.8,1373 L1526.9,1373 L1527.1,1373 L1528,1373 L1528.2,1398.9 L1528.9,1398.9 L1529.1,1420.5 L1529.8,1420.5 L1530,1403.3 L1530.7,1403.3 L1530.9,1386 L1531.7,1386 L1532,1398.9 L1533,1398.9 L1533.2,1394.6 L1534.2,1394.6 L1534.4,1398.9 L1535.2,1398.9 L1535.4,1325.5 L1536.1,1325.5 L1536.3,1321.2 L1537.2,1321.2 L1537.5,1325.5 L1538.6,1325.5 L1538.8,1329.9 L1539.7,1329.9 L1539.9,1381.7 L1540.6,1381.7 L1540.8,1351.5 L1541.5,1351.5 L1541.7,1347.1 L1542.6,1347.1 L1542.9,1360.1 L1544,1360.1 L1544.2,1377.4 L1545.3,1377.4 L1545.5,1312.6 L1546.5,1312.6 L1546.8,1334.2 L1547.7,1334.2 L1547.9,1424.8 L1548.4,1424.8 L1548.4,1316.9 L1548.9,1316.9 L1549.2,1312.6 L1550.3,1312.6 L1550.6,1312.6 L1551.6,1312.6 L1551.9,1316.9 L1553,1316.9 L1553.3,1325.5 L1554.2,1325.5 L1554.3,1373 L1555.2,1373 L1555.5,1368.7 L1556.6,1368.7 L1556.9,1342.8 L1557.9,1342.8 L1558.2,1347.1 L1559.3,1347.1 L1559.6,1347.1 L1560.3,1347.1 L1560.3,1390.3 L1560.9,1390.3 L1561.2,1373 L1562.1,1373 L1562.3,1325.5 L1563.2,1325.5 L1563.4,1342.8 L1564.1,1342.8 L1564.3,1381.7 L1565.1,1381.7 L1565.4,1312.6 L1566.5,1312.6 L1566.9,1373 L1568.2,1373 L1568.5,1351.5 L1569.3,1351.5 L1569.3,1403.3 L1570,1403.3 L1570.2,1381.7 L1571.2,1381.7 L1571.4,1360.1 L1572.4,1360.1 L1572.6,1325.5 L1573.6,1325.5 L1573.8,1329.9 L1574.7,1329.9 L1575,1386 L1575.8,1386 L1576,1355.8 L1576.7,1355.8 L1576.9,1338.5 L1577.7,1338.5 L1578,1386 L1578.9,1386 L1579.2,1368.7 L1580.1,1368.7 L1580.4,1403.3 L1580.8,1403.3 L1580.8,1360.1 L1581.5,1360.1 L1581.8,1377.4 L1583.1,1377.4 L1583.4,1329.9 L1584.6,1329.9 L1584.8,1407.6 L1585.7,1407.6 L1585.9,1394.6 L1586.6,1394.6 L1586.8,1381.7 L1587.5,1381.7 L1587.7,1386 L1588.4,1386 L1588.6,1420.5 L1589.3,1420.5 L1589.5,1381.7 L1590.3,1381.7 L1590.5,1407.6 L1591.4,1407.6 L1591.6,1420.5 L1592.4,1420.5 L1592.6,1364.4 L1593.6,1364.4 L1593.9,1386 L1595.2,1386 L1595.5,1398.9 L1596.2,1398.9 L1596.2,1373 L1596.7,1373 L1597,1355.8 L1598.1,1355.8 L1598.3,1347.1 L1599.4,1347.1 L1599.7,1347.1 L1600.8,1347.1 L1601,1325.5 L1601.9,1325.5 L1602.1,1351.5 L1602.8,1351.5 L1603,1394.6 L1603.7,1394.6 L1603.9,1282.4 L1604.6,1282.4 L1604.8,1256.5 L1605.5,1256.5 L1605.7,1252.2 L1606.6,1252.2 L1606.9,1269.4 L1608,1269.4 L1608.2,1286.7 L1609.1,1286.7 L1609.3,1390.3 L1610.1,1390.3 L1610.2,1360.1 L1611,1360.1 L1611.1,1278.1 L1612,1278.1 L1612.2,1260.8 L1613.1,1260.8 L1613.4,1239.2 L1614,1239.2 L1614.1,1334.2 L1614.8,1334.2 L1615.1,1213.3 L1616.1,1213.3 L1616.4,1221.9 L1617.4,1221.9 L1617.7,1234.9 L1618.6,1234.9 L1618.8,1368.7 L1619.6,1368.7 L1619.7,1394.6 L1620.3,1394.6 L1620.4,1338.5 L1620.9,1338.5 L1621,1351.5 L1621.8,1351.5 L1621.9,1355.8 L1622.7,1355.8 L1622.9,1351.5 L1623.6,1351.5 L1623.8,1338.5 L1624.5,1338.5 L1624.7,1364.4 L1625.4,1364.4 L1625.6,1377.4 L1626.3,1377.4 L1626.5,1347.1 L1627.2,1347.1 L1627.4,1308.3 L1628.3,1308.3 L1628.5,1355.8 L1629.6,1355.8 L1629.9,1377.4 L1630.8,1377.4 L1631,1342.8 L1631.7,1342.8 L1631.9,1364.4 L1632.6,1364.4 L1632.8,1368.7 L1633.5,1368.7 L1633.7,1368.7 L1634.4,1368.7 L1634.6,1364.4 L1635.5,1364.4 L1635.7,1373 L1636.8,1373 L1637.1,1386 L1638,1386 L1638.2,1334.2 L1638.9,1334.2 L1639.1,1338.5 L1639.8,1338.5 L1640,1364.4 L1640.7,1364.4 L1640.9,1355.8 L1641.6,1355.8 L1641.8,1347.1 L1642.4,1347.1 L1642.5,1416.2 L1643.1,1416.2 L1643.3,1386 L1644.2,1386 L1644.4,1360.1 L1645.2,1360.1 L1645.4,1368.7 L1646.1,1368.7 L1646.3,1381.7 L1647,1381.7 L1647.2,1329.9 L1648.2,1329.9 L1648.5,1351.5 L1649.7,1351.5 L1650,1282.4 L1651,1282.4 L1651.2,1373 L1651.9,1373 L1652.1,1394.6 L1653,1394.6 L1653.3,1329.9 L1654.4,1329.9 L1654.7,1312.6 L1655.8,1312.6 L1656,1304 L1656.9,1304 L1657.1,1386 L1657.8,1386 L1658,1308.3 L1658.7,1308.3 L1658.9,1221.9 L1659.8,1221.9 L1660.1,1226.3 L1661.2,1226.3 L1661.4,1230.6 L1662.3,1230.6 L1662.5,1308.3 L1663.3,1308.3 L1663.5,1252.2 L1664.4,1252.2 L1664.6,1213.3 L1665.5,1213.3 L1665.7,1243.5 L1666.7,1243.5 L1666.9,1269.4 L1667.5,1269.4 L1667.6,1394.6 L1668.2,1394.6 L1668.4,1360.1 L1669.4,1360.1 L1669.6,1282.4 L1670.4,1282.4 L1670.6,1360.1 L1671.3,1360.1 L1671.5,1308.3 L1672.7,1308.3" fill="none" stroke="#00ffff" stroke-width="4.17" stroke-linejoin="round" stroke-linecap="butt" clip-path="url(#c3)"/>
<rect x="250" y="1178.8" width="1550" height="302.19" fill="none" stroke="#000" stroke-width="2.22"/>
<line x1="402.1" x2="402.1" y1="1480.96" y2="1490.68" stroke="#000" stroke-width="2.22"/>
<line x1="664.4" x2="664.4" y1="1480.96" y2="1490.68" stroke="#000" stroke-width="2.22"/>
<line x1="926.7" x2="926.7" y1="1480.96" y2="1490.68" stroke="#000" stroke-width="2.22"/>
<line x1="1189" x2="1189" y1="1480.96" y2="1490.68" stroke="#000" stroke-width="2.22"/>
<line x1="1451.3" x2="1451.3" y1="1480.96" y2="1490.68" stroke="#000" stroke-width="2.22"/>
<line x1="1713.6" x2="1713.6" y1="1480.96" y2="1490.68" stroke="#000" stroke-width="2.22"/>
<line x1="240.3" x2="250" y1="1480.96" y2="1480.96" stroke="#000" stroke-width="2.22"/>
<text x="231" y="1490.8" font-size="25" text-anchor="end">0</text>
<line x1="240.3" x2="250" y1="1394.62" y2="1394.62" stroke="#000" stroke-width="2.22"/>
<text x="231" y="1404.4" font-size="25" text-anchor="end">20</text>
<line x1="240.3" x2="250" y1="1308.28" y2="1308.28" stroke="#000" stroke-width="2.22"/>
<text x="231" y="1318.1" font-size="25" text-anchor="end">40</text>
<line x1="240.3" x2="250" y1="1221.94" y2="1221.94" stroke="#000" stroke-width="2.22"/>
<text x="231" y="1231.7" font-size="25" text-anchor="end">60</text>
<text transform="translate(183.1,1332.3) rotate(-90)" font-size="22.22" text-anchor="middle">Counts</text>
<rect x="263.8" y="1192" width="1048.9" height="43.4" rx="5" ry="5" fill="#fff" fill-opacity="0.5" stroke="#ccc" stroke-opacity="0.5" stroke-width="2.78"/>
<line x1="271" x2="325" y1="1211.1" y2="1211.1" stroke="#00ffff" stroke-width="4.17"/>
<text x="341.7" y="1219.9" font-size="25" textLength="960.6">Numbers of Potential Warm Pixels (Real Warm + Flickering): Front Side CCDs</text>
<text x="402.1" y="1518.8" font-size="25" text-anchor="middle">2000</text>
<text x="664.4" y="1518.8" font-size="25" text-anchor="middle">2005</text>
<text x="926.7" y="1518.8" font-size="25" text-anchor="middle">2010</text>
<text x="1189" y="1518.8" font-size="25" text-anchor="middle">2015</text>
<text x="1451.3" y="1518.8" font-size="25" text-anchor="middle">2020</text>
<text x="1713.6" y="1518.8" font-size="25" text-anchor="middle">2025</text>
<text x="1025" y="1555.2" font-size="25" text-anchor="middle">Time (Year)</text>
</g></svg>
</body></html>
